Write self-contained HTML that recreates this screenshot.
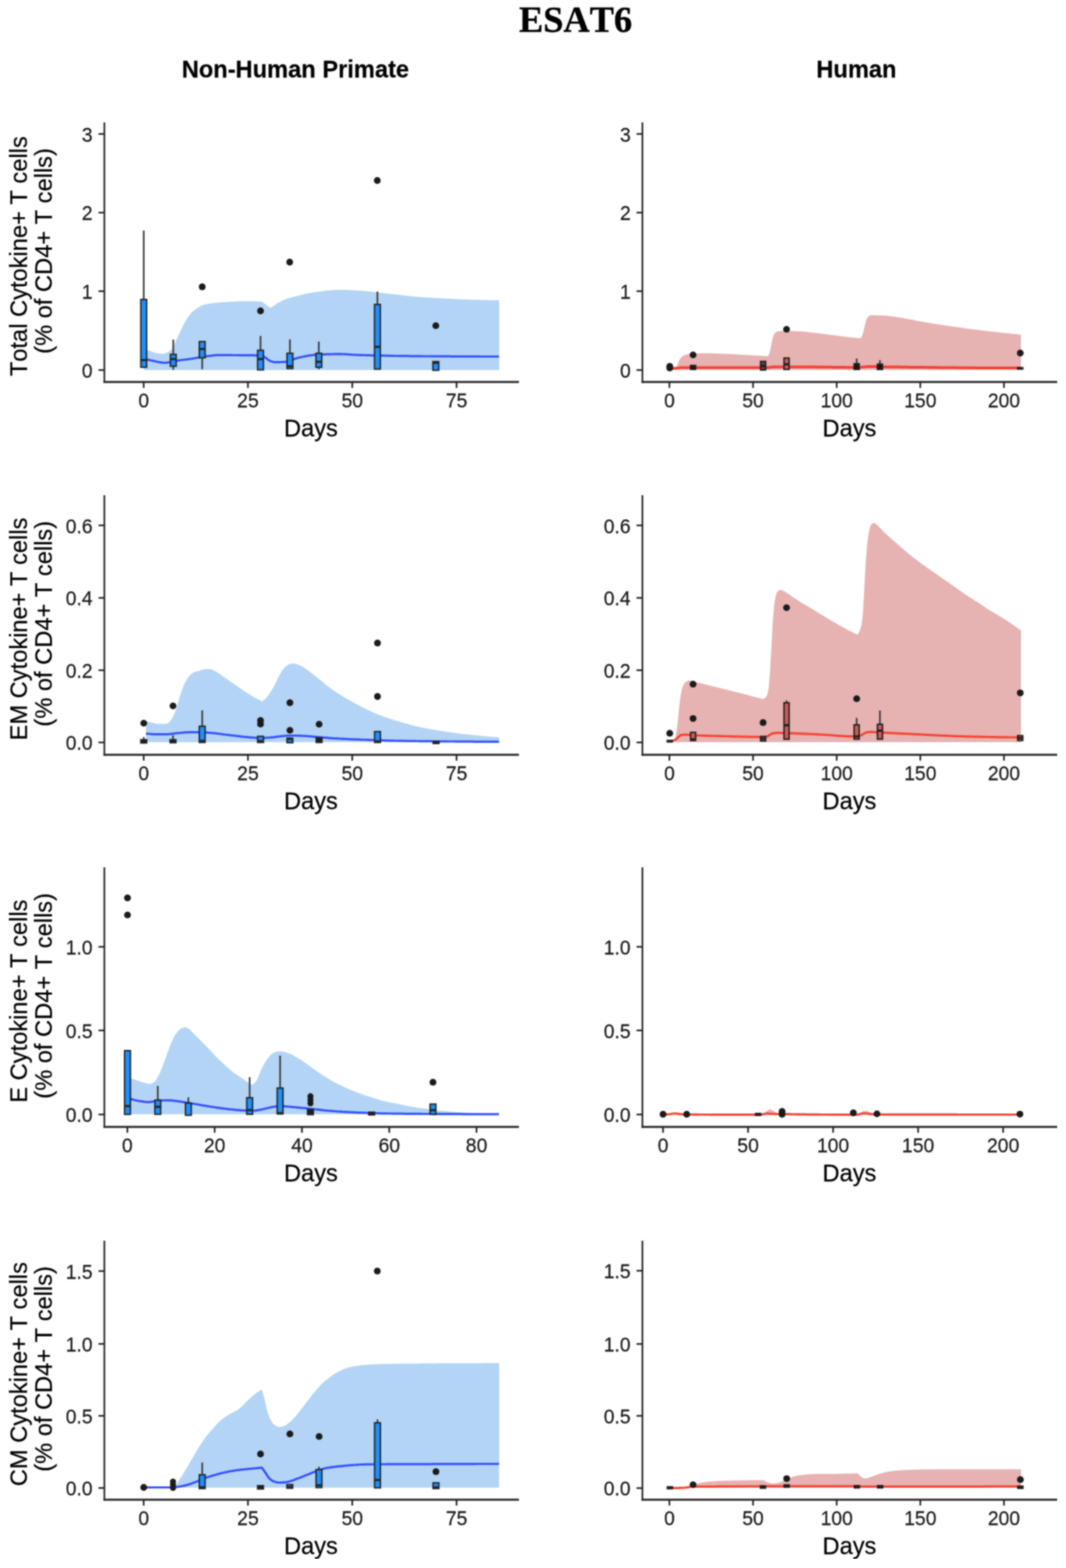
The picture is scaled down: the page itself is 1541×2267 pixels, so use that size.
<!DOCTYPE html>
<html lang="en">
<head>
<meta charset="utf-8">
<title>ESAT6</title>
<style>
html,body{margin:0;padding:0;background:#fff;}
body{width:1541px;height:2267px;overflow:hidden;}
svg{display:block;}
text{font-family:"Liberation Sans",sans-serif;font-kerning:none;}
.tk{font-size:28px;fill:#1c1c1c;stroke:#1c1c1c;stroke-width:0.3px;}
.ti{font-size:34.2px;fill:#000;stroke:#000;stroke-width:0.3px;}
.ct{font-size:34.2px;font-weight:bold;fill:#000;stroke:#000;stroke-width:0.3px;}
.mt{font-family:"Liberation Serif",serif;font-size:52.6px;font-weight:bold;fill:#000;stroke:#000;stroke-width:0.5px;}
</style>
</head>
<body>
<svg width="1541" height="2267" viewBox="0 0 1541 2267">
<rect width="1541" height="2267" fill="#ffffff"/>
<defs><filter id="bl" x="0" y="0" width="100%" height="100%" filterUnits="objectBoundingBox" color-interpolation-filters="sRGB"><feGaussianBlur stdDeviation="1.0" result="b"/><feComposite in="SourceGraphic" in2="b" operator="arithmetic" k1="0" k2="0.19999999999999996" k3="0.8" k4="0"/></filter></defs><g filter="url(#bl)">
<text class="mt" x="832" y="45.5" text-anchor="middle">ESAT6</text>
<text class="ct" x="427" y="111.5" text-anchor="middle">Non-Human Primate</text>
<text class="ct" x="1238" y="111.5" text-anchor="middle">Human</text>
<g><path d="M208.2 504.6 L210.2 505.3 L212.2 505.9 L214.2 506.6 L216.2 507.3 L218.2 508.0 L220.2 508.8 L222.2 509.4 L224.2 509.9 L226.2 510.3 L228.2 510.7 L230.2 511.1 L232.2 511.3 L234.2 511.4 L236.2 511.3 L238.2 510.9 L240.2 510.2 L242.2 509.5 L244.2 508.5 L246.2 507.0 L248.2 504.9 L250.2 501.7 L252.2 497.7 L254.2 493.1 L256.2 488.6 L258.2 484.4 L260.2 480.2 L262.2 475.9 L264.2 471.6 L266.2 467.5 L268.2 463.9 L270.2 460.8 L272.2 458.0 L274.2 455.3 L276.2 452.9 L278.2 450.8 L280.2 448.9 L282.2 447.4 L284.2 446.0 L286.2 444.7 L288.2 443.5 L290.2 442.4 L292.2 441.5 L294.2 440.7 L296.2 440.1 L298.2 439.7 L300.2 439.3 L302.2 439.0 L304.2 438.7 L306.2 438.4 L308.2 438.2 L310.2 438.0 L312.2 437.8 L314.2 437.6 L316.2 437.4 L318.2 437.3 L320.2 437.1 L322.2 437.0 L324.2 436.8 L326.2 436.7 L328.2 436.6 L330.2 436.4 L332.2 436.3 L334.2 436.2 L336.2 436.1 L338.2 436.0 L340.2 435.9 L342.2 435.8 L344.2 435.7 L346.2 435.6 L348.2 435.6 L350.2 435.5 L352.2 435.5 L354.2 435.5 L356.2 435.5 L358.2 435.5 L360.2 435.5 L362.2 435.5 L364.2 435.5 L366.2 435.5 L368.2 435.6 L370.2 435.6 L372.2 435.7 L374.2 435.7 L376.2 435.8 L378.2 435.9 L378.6 435.9 L380.6 437.4 L382.6 439.0 L384.6 440.5 L386.6 441.9 L388.6 443.4 L390.6 444.8 L391.2 445.2 L393.2 443.8 L395.2 442.4 L397.2 441.1 L399.2 439.8 L401.2 438.6 L403.2 437.4 L405.2 436.2 L407.2 435.1 L409.2 434.0 L411.2 433.2 L413.2 432.4 L415.2 431.7 L417.2 431.1 L419.2 430.5 L421.2 429.9 L423.2 429.4 L425.2 428.9 L427.2 428.4 L429.2 427.9 L431.2 427.4 L433.2 426.9 L435.2 426.5 L437.2 426.0 L439.2 425.5 L441.2 425.1 L443.2 424.6 L445.2 424.2 L447.2 423.8 L449.2 423.4 L451.2 423.1 L453.2 422.7 L455.2 422.4 L457.2 422.1 L459.2 421.9 L461.2 421.6 L463.2 421.4 L465.2 421.1 L467.2 420.8 L469.2 420.6 L471.2 420.3 L473.2 420.1 L475.2 419.9 L477.2 419.7 L479.2 419.5 L481.2 419.4 L483.2 419.2 L485.2 419.1 L487.2 419.0 L489.2 419.0 L491.2 418.9 L493.2 418.9 L495.2 419.0 L497.2 419.0 L499.2 419.1 L501.2 419.1 L503.2 419.2 L505.2 419.3 L507.2 419.4 L509.2 419.5 L511.2 419.7 L513.2 419.8 L515.2 419.9 L517.2 420.0 L519.2 420.2 L521.2 420.3 L523.2 420.5 L525.2 420.6 L527.2 420.8 L529.2 421.0 L531.2 421.2 L533.2 421.4 L535.2 421.6 L537.2 421.9 L539.2 422.1 L541.2 422.3 L543.2 422.5 L545.2 422.7 L547.2 422.9 L549.2 423.2 L551.2 423.4 L553.2 423.6 L555.2 423.8 L557.2 424.0 L559.2 424.3 L561.2 424.5 L563.2 424.7 L565.2 425.0 L567.2 425.2 L569.2 425.4 L571.2 425.7 L573.2 425.9 L575.2 426.2 L577.2 426.4 L579.2 426.6 L581.2 426.9 L583.2 427.1 L585.2 427.3 L587.2 427.5 L589.2 427.7 L591.2 428.0 L593.2 428.2 L595.2 428.4 L597.2 428.6 L599.2 428.7 L601.2 428.9 L603.2 429.1 L605.2 429.3 L607.2 429.4 L609.2 429.6 L611.2 429.7 L613.2 429.8 L615.2 429.9 L617.2 430.0 L619.2 430.2 L621.2 430.3 L623.2 430.4 L625.2 430.5 L627.2 430.6 L629.2 430.7 L631.2 430.9 L633.2 431.0 L635.2 431.1 L637.2 431.2 L639.2 431.3 L641.2 431.4 L643.2 431.5 L645.2 431.6 L647.2 431.7 L649.2 431.8 L651.2 431.9 L653.2 432.0 L655.2 432.1 L657.2 432.2 L659.2 432.3 L661.2 432.4 L663.2 432.5 L665.2 432.6 L667.2 432.7 L669.2 432.8 L671.2 432.9 L673.2 432.9 L675.2 433.0 L677.2 433.1 L679.2 433.2 L681.2 433.2 L683.2 433.3 L685.2 433.4 L687.2 433.4 L689.2 433.5 L691.2 433.6 L693.2 433.6 L695.2 433.7 L697.2 433.7 L699.2 433.7 L701.2 433.8 L703.2 433.8 L705.2 433.9 L707.2 433.9 L709.2 433.9 L711.2 433.9 L713.2 434.0 L715.2 434.0 L717.2 434.0 L719.2 434.0 L721.2 434.0 L721.5 434.0 L721.5 534.9 L207.7 534.9Z" fill="#b3d4f5"/>
<path d="M208.2 518.6 L210.2 519.1 L212.2 519.6 L214.2 520.1 L216.2 520.6 L218.2 521.0 L220.2 521.4 L222.2 521.9 L224.2 522.3 L226.2 522.8 L228.2 523.2 L230.2 523.6 L232.2 523.9 L234.2 524.2 L236.2 524.4 L238.2 524.5 L240.2 524.4 L242.2 524.2 L244.2 523.9 L246.2 523.6 L248.2 523.1 L250.2 522.7 L252.2 522.2 L254.2 521.8 L256.2 521.4 L258.2 521.1 L260.2 520.8 L262.2 520.5 L264.2 520.3 L266.2 520.0 L268.2 519.8 L270.2 519.6 L272.2 519.3 L274.2 519.0 L276.2 518.8 L278.2 518.5 L280.2 518.2 L282.2 517.8 L284.2 517.4 L286.2 517.1 L288.2 516.7 L290.2 516.3 L292.2 516.0 L294.2 515.7 L296.2 515.4 L298.2 515.1 L300.2 514.8 L302.2 514.6 L304.2 514.3 L306.2 514.1 L308.2 513.8 L310.2 513.6 L312.2 513.5 L314.2 513.4 L316.2 513.4 L318.2 513.4 L320.2 513.4 L322.2 513.4 L324.2 513.4 L326.2 513.4 L328.2 513.4 L330.2 513.4 L332.2 513.4 L334.2 513.4 L336.2 513.5 L338.2 513.5 L340.2 513.5 L342.2 513.5 L344.2 513.5 L346.2 513.6 L348.2 513.6 L350.2 513.6 L352.2 513.6 L354.2 513.6 L356.2 513.6 L358.2 513.6 L360.2 513.7 L362.2 513.7 L364.2 513.7 L366.2 513.7 L368.2 513.8 L370.2 513.8 L372.2 513.9 L374.2 513.9 L376.2 514.1 L378.2 514.6 L380.2 515.3 L382.2 516.2 L384.2 517.3 L386.2 518.9 L388.2 520.6 L390.2 521.7 L392.2 522.4 L394.2 523.1 L396.2 523.5 L398.2 523.7 L400.2 523.7 L402.2 523.6 L404.2 523.6 L406.2 523.5 L408.2 523.4 L410.2 523.3 L412.2 523.2 L414.2 523.0 L416.2 522.5 L418.2 521.7 L420.2 521.0 L422.2 520.3 L424.2 519.6 L426.2 518.8 L428.2 518.1 L430.2 517.5 L432.2 517.0 L434.2 516.5 L436.2 516.1 L438.2 515.7 L440.2 515.3 L442.2 514.9 L444.2 514.5 L446.2 514.2 L448.2 513.9 L450.2 513.6 L452.2 513.4 L454.2 513.2 L456.2 513.0 L458.2 512.9 L460.2 512.8 L462.2 512.7 L464.2 512.6 L466.2 512.5 L468.2 512.4 L470.2 512.3 L472.2 512.2 L474.2 512.2 L476.2 512.1 L478.2 512.1 L480.2 512.0 L482.2 512.0 L484.2 511.9 L486.2 511.9 L488.2 511.9 L490.2 511.9 L492.2 511.9 L494.2 511.9 L496.2 512.0 L498.2 512.1 L500.2 512.2 L502.2 512.3 L504.2 512.5 L506.2 512.6 L508.2 512.8 L510.2 512.9 L512.2 513.0 L514.2 513.1 L516.2 513.2 L518.2 513.3 L520.2 513.3 L522.2 513.4 L524.2 513.4 L526.2 513.5 L528.2 513.5 L530.2 513.6 L532.2 513.7 L534.2 513.7 L536.2 513.8 L538.2 513.8 L540.2 513.9 L542.2 513.9 L544.2 513.9 L546.2 514.0 L548.2 514.0 L550.2 514.1 L552.2 514.1 L554.2 514.2 L556.2 514.2 L558.2 514.2 L560.2 514.3 L562.2 514.3 L564.2 514.4 L566.2 514.4 L568.2 514.4 L570.2 514.5 L572.2 514.5 L574.2 514.5 L576.2 514.6 L578.2 514.6 L580.2 514.6 L582.2 514.6 L584.2 514.7 L586.2 514.7 L588.2 514.7 L590.2 514.7 L592.2 514.8 L594.2 514.8 L596.2 514.8 L598.2 514.8 L600.2 514.9 L602.2 514.9 L604.2 514.9 L606.2 514.9 L608.2 514.9 L610.2 515.0 L612.2 515.0 L614.2 515.0 L616.2 515.0 L618.2 515.0 L620.2 515.0 L622.2 515.0 L624.2 515.1 L626.2 515.1 L628.2 515.1 L630.2 515.1 L632.2 515.1 L634.2 515.1 L636.2 515.1 L638.2 515.2 L640.2 515.2 L642.2 515.2 L644.2 515.2 L646.2 515.2 L648.2 515.2 L650.2 515.2 L652.2 515.3 L654.2 515.3 L656.2 515.3 L658.2 515.3 L660.2 515.3 L662.2 515.3 L664.2 515.3 L666.2 515.3 L668.2 515.3 L670.2 515.4 L672.2 515.4 L674.2 515.4 L676.2 515.4 L678.2 515.4 L680.2 515.4 L682.2 515.4 L684.2 515.4 L686.2 515.4 L688.2 515.4 L690.2 515.4 L692.2 515.4 L694.2 515.5 L696.2 515.5 L698.2 515.5 L700.2 515.5 L702.2 515.5 L704.2 515.5 L706.2 515.5 L708.2 515.5 L710.2 515.5 L712.2 515.5 L714.2 515.5 L716.2 515.5 L718.2 515.5 L720.2 515.5 L721.3 515.5" fill="none" stroke="#3350ff" stroke-width="3.2" stroke-linejoin="round"/>
<line x1="207.8" y1="333.3" x2="207.8" y2="433.0" stroke="#3a3a3a" stroke-width="2.4"/>
<rect x="203.6" y="433.0" width="8.4" height="97.9" fill="#1e90ff" stroke="#262626" stroke-width="2.1"/>
<line x1="203.6" y1="520.6" x2="212.0" y2="520.6" stroke="#262626" stroke-width="3.2"/>
<line x1="250.5" y1="491.0" x2="250.5" y2="512.4" stroke="#3a3a3a" stroke-width="2.4"/>
<line x1="250.5" y1="529.5" x2="250.5" y2="534.8" stroke="#3a3a3a" stroke-width="2.4"/>
<rect x="246.3" y="512.4" width="8.4" height="17.1" fill="#1e90ff" stroke="#262626" stroke-width="2.1"/>
<line x1="246.3" y1="519.2" x2="254.7" y2="519.2" stroke="#262626" stroke-width="3.2"/>
<line x1="292.3" y1="517.2" x2="292.3" y2="533.8" stroke="#3a3a3a" stroke-width="2.4"/>
<rect x="288.1" y="493.9" width="8.4" height="23.4" fill="#1e90ff" stroke="#262626" stroke-width="2.1"/>
<line x1="288.1" y1="504.6" x2="296.5" y2="504.6" stroke="#262626" stroke-width="3.2"/>
<line x1="376.6" y1="485.7" x2="376.6" y2="506.5" stroke="#3a3a3a" stroke-width="2.4"/>
<rect x="372.4" y="506.5" width="8.4" height="28.2" fill="#1e90ff" stroke="#262626" stroke-width="2.1"/>
<line x1="372.4" y1="519.2" x2="380.8" y2="519.2" stroke="#262626" stroke-width="3.2"/>
<line x1="419.1" y1="490.6" x2="419.1" y2="510.8" stroke="#3a3a3a" stroke-width="2.4"/>
<rect x="414.9" y="510.8" width="8.4" height="22.0" fill="#1e90ff" stroke="#262626" stroke-width="2.1"/>
<line x1="414.9" y1="529.5" x2="423.3" y2="529.5" stroke="#262626" stroke-width="3.2"/>
<line x1="460.9" y1="493.9" x2="460.9" y2="510.8" stroke="#3a3a3a" stroke-width="2.4"/>
<line x1="460.9" y1="530.9" x2="460.9" y2="533.8" stroke="#3a3a3a" stroke-width="2.4"/>
<rect x="456.7" y="510.8" width="8.4" height="20.1" fill="#1e90ff" stroke="#262626" stroke-width="2.1"/>
<line x1="456.7" y1="523.1" x2="465.1" y2="523.1" stroke="#262626" stroke-width="3.2"/>
<line x1="545.6" y1="421.5" x2="545.6" y2="440.2" stroke="#3a3a3a" stroke-width="2.4"/>
<rect x="541.4" y="440.2" width="8.4" height="93.4" fill="#1e90ff" stroke="#262626" stroke-width="2.1"/>
<line x1="541.4" y1="501.5" x2="549.8" y2="501.5" stroke="#262626" stroke-width="3.2"/>
<rect x="625.8" y="522.8" width="8.4" height="12.5" fill="#1e90ff" stroke="#262626" stroke-width="2.1"/>
<line x1="625.8" y1="524.6" x2="634.2" y2="524.6" stroke="#262626" stroke-width="3.2"/>
<circle cx="292.3" cy="414.7" r="4.9" fill="#1a1a1a"/>
<circle cx="376.6" cy="449.5" r="4.9" fill="#1a1a1a"/>
<circle cx="418.8" cy="379.0" r="4.9" fill="#1a1a1a"/>
<circle cx="545.4" cy="261.0" r="4.9" fill="#1a1a1a"/>
<circle cx="630.0" cy="470.9" r="4.9" fill="#1a1a1a"/>
<path d="M150.9 177.0 V553.8" fill="none" stroke="#2b2b2b" stroke-width="2.5"/>
<path d="M149.7 552.3 H750.2" fill="none" stroke="#2b2b2b" stroke-width="3.0"/>
<line x1="142.4" y1="535.0" x2="150.9" y2="535.0" stroke="#222222" stroke-width="2.4"/>
<text class="tk" transform="translate(133.9 545.9) scale(1 1.06)" text-anchor="end">0</text>
<line x1="142.4" y1="421.0" x2="150.9" y2="421.0" stroke="#222222" stroke-width="2.4"/>
<text class="tk" transform="translate(133.9 431.9) scale(1 1.06)" text-anchor="end">1</text>
<line x1="142.4" y1="307.4" x2="150.9" y2="307.4" stroke="#222222" stroke-width="2.4"/>
<text class="tk" transform="translate(133.9 318.3) scale(1 1.06)" text-anchor="end">2</text>
<line x1="142.4" y1="193.7" x2="150.9" y2="193.7" stroke="#222222" stroke-width="2.4"/>
<text class="tk" transform="translate(133.9 204.6) scale(1 1.06)" text-anchor="end">3</text>
<line x1="207.7" y1="552.3" x2="207.7" y2="560.8" stroke="#222222" stroke-width="2.4"/>
<text class="tk" transform="translate(207.7 589.2) scale(1 1.06)" text-anchor="middle">0</text>
<line x1="358.4" y1="552.3" x2="358.4" y2="560.8" stroke="#222222" stroke-width="2.4"/>
<text class="tk" transform="translate(358.4 589.2) scale(1 1.06)" text-anchor="middle">25</text>
<line x1="509.2" y1="552.3" x2="509.2" y2="560.8" stroke="#222222" stroke-width="2.4"/>
<text class="tk" transform="translate(509.2 589.2) scale(1 1.06)" text-anchor="middle">50</text>
<line x1="660.0" y1="552.3" x2="660.0" y2="560.8" stroke="#222222" stroke-width="2.4"/>
<text class="tk" transform="translate(660.0 589.2) scale(1 1.06)" text-anchor="middle">75</text>
<text class="ti" x="449.5" y="630.7" text-anchor="middle">Days</text>
<text class="ti" transform="translate(38.6 370.4) rotate(-90)" text-anchor="middle">Total Cytokine+ T cells</text>
<text class="ti" transform="translate(74.5 362.8) rotate(-90)" text-anchor="middle">(% of CD4+ T cells)</text></g>
<g><path d="M975.6 535.2 L977.6 531.4 L979.6 526.9 L981.6 521.7 L983.6 518.3 L985.6 515.9 L987.6 514.4 L989.6 513.4 L991.6 512.8 L993.6 512.2 L995.6 511.8 L997.6 511.6 L999.6 511.4 L1001.6 511.3 L1003.6 511.2 L1005.6 511.0 L1007.6 511.0 L1009.6 510.9 L1011.6 510.8 L1013.6 510.8 L1015.6 510.7 L1017.6 510.7 L1019.6 510.7 L1021.6 510.7 L1023.6 510.8 L1025.6 510.8 L1027.6 510.8 L1029.6 510.9 L1031.6 511.0 L1033.6 511.0 L1035.6 511.1 L1037.6 511.2 L1039.6 511.2 L1041.6 511.3 L1043.6 511.4 L1045.6 511.4 L1047.6 511.5 L1049.6 511.6 L1051.6 511.7 L1053.6 511.8 L1055.6 511.9 L1057.6 512.0 L1059.6 512.1 L1061.6 512.2 L1063.6 512.3 L1065.6 512.4 L1067.6 512.6 L1069.6 512.7 L1071.6 512.8 L1073.6 512.9 L1075.6 513.0 L1077.6 513.1 L1079.6 513.2 L1081.6 513.4 L1083.6 513.5 L1085.6 513.6 L1087.6 513.7 L1089.6 513.8 L1091.6 513.9 L1093.6 514.1 L1095.6 514.2 L1097.6 514.3 L1099.6 514.4 L1101.6 514.5 L1103.6 514.7 L1105.6 514.8 L1107.6 514.9 L1109.4 515.0 L1111.4 513.2 L1113.4 506.7 L1115.4 495.9 L1117.4 487.4 L1119.4 482.8 L1121.4 480.5 L1123.4 479.4 L1125.4 478.9 L1127.4 478.7 L1129.4 478.6 L1131.4 478.5 L1133.4 478.4 L1135.4 478.4 L1137.4 478.4 L1139.4 478.5 L1141.4 478.5 L1143.4 478.6 L1145.4 478.6 L1147.4 478.7 L1149.4 478.8 L1151.4 478.9 L1153.4 479.0 L1155.4 479.0 L1157.4 479.2 L1159.4 479.3 L1161.4 479.5 L1163.4 479.6 L1165.4 479.8 L1167.4 480.1 L1169.4 480.3 L1171.4 480.5 L1173.4 480.7 L1175.4 481.0 L1177.4 481.2 L1179.4 481.4 L1181.4 481.7 L1183.4 481.9 L1185.4 482.1 L1187.4 482.4 L1189.4 482.6 L1191.4 482.9 L1193.4 483.1 L1195.4 483.4 L1197.4 483.7 L1199.4 484.0 L1201.4 484.2 L1203.4 484.5 L1205.4 484.8 L1207.4 485.0 L1209.4 485.3 L1211.4 485.6 L1213.4 485.8 L1215.4 486.1 L1217.4 486.3 L1219.4 486.6 L1221.4 486.8 L1223.4 487.0 L1225.4 487.2 L1227.4 487.5 L1229.4 487.7 L1231.4 487.9 L1233.4 488.1 L1235.4 488.3 L1237.4 488.5 L1239.4 488.7 L1241.4 488.9 L1243.4 489.1 L1243.8 489.1 L1245.8 486.3 L1247.8 480.6 L1249.8 471.9 L1251.8 463.8 L1253.8 459.4 L1255.8 457.2 L1257.8 456.3 L1259.8 455.8 L1261.8 455.8 L1263.8 455.8 L1265.8 455.9 L1267.8 455.9 L1269.8 456.0 L1271.8 456.0 L1273.8 456.1 L1275.8 456.1 L1277.8 456.2 L1279.8 456.3 L1281.8 456.5 L1283.8 456.7 L1285.8 456.9 L1287.8 457.1 L1289.8 457.4 L1291.8 457.7 L1293.8 458.0 L1295.8 458.3 L1297.8 458.6 L1299.8 458.9 L1301.8 459.2 L1303.8 459.6 L1305.8 459.9 L1307.8 460.3 L1309.8 460.7 L1311.8 461.0 L1313.8 461.4 L1315.8 461.8 L1317.8 462.2 L1319.8 462.6 L1321.8 463.0 L1323.8 463.4 L1325.8 463.8 L1327.8 464.2 L1329.8 464.6 L1331.8 465.0 L1333.8 465.3 L1335.8 465.7 L1337.8 466.0 L1339.8 466.3 L1341.8 466.7 L1343.8 467.0 L1345.8 467.3 L1347.8 467.6 L1349.8 467.9 L1351.8 468.3 L1353.8 468.6 L1355.8 468.9 L1357.8 469.2 L1359.8 469.5 L1361.8 469.8 L1363.8 470.1 L1365.8 470.4 L1367.8 470.7 L1369.8 471.0 L1371.8 471.3 L1373.8 471.6 L1375.8 471.9 L1377.8 472.2 L1379.8 472.4 L1381.8 472.7 L1383.8 473.0 L1385.8 473.3 L1387.8 473.6 L1389.8 473.8 L1391.8 474.1 L1393.8 474.4 L1395.8 474.7 L1397.8 474.9 L1399.8 475.2 L1401.8 475.5 L1403.8 475.7 L1405.8 476.0 L1407.8 476.2 L1409.8 476.5 L1411.8 476.7 L1413.8 477.0 L1415.8 477.2 L1417.8 477.5 L1419.8 477.7 L1421.8 478.0 L1423.8 478.2 L1425.8 478.5 L1427.8 478.7 L1429.8 478.9 L1431.8 479.2 L1433.8 479.4 L1435.8 479.6 L1437.8 479.9 L1439.8 480.1 L1441.8 480.3 L1443.8 480.5 L1445.8 480.8 L1447.8 481.0 L1449.8 481.2 L1451.8 481.4 L1453.8 481.6 L1455.8 481.8 L1457.8 482.1 L1459.8 482.3 L1461.8 482.5 L1463.8 482.7 L1465.8 482.9 L1467.8 483.1 L1469.8 483.3 L1471.8 483.5 L1473.8 483.7 L1475.9 483.9 L1475.9 534.8 L975.6 534.8Z" fill="#e6b2b2"/>
<path d="M968.2 532.9 L970.2 532.8 L972.2 532.7 L974.2 532.5 L976.2 532.4 L978.2 532.2 L980.2 532.0 L982.2 531.7 L984.2 531.5 L986.2 531.4 L988.2 531.4 L990.2 531.4 L992.2 531.4 L994.2 531.4 L996.2 531.4 L998.2 531.4 L1000.2 531.4 L1002.2 531.4 L1004.2 531.4 L1006.2 531.4 L1008.2 531.4 L1010.2 531.4 L1012.2 531.4 L1014.2 531.4 L1016.2 531.4 L1018.2 531.4 L1020.2 531.4 L1022.2 531.4 L1024.2 531.4 L1026.2 531.4 L1028.2 531.4 L1030.2 531.4 L1032.2 531.4 L1034.2 531.4 L1036.2 531.4 L1038.2 531.4 L1040.2 531.4 L1042.2 531.4 L1044.2 531.4 L1046.2 531.5 L1048.2 531.5 L1050.2 531.5 L1052.2 531.5 L1054.2 531.5 L1056.2 531.5 L1058.2 531.5 L1060.2 531.5 L1062.2 531.5 L1064.2 531.5 L1066.2 531.5 L1068.2 531.5 L1070.2 531.5 L1072.2 531.5 L1074.2 531.5 L1076.2 531.5 L1078.2 531.5 L1080.2 531.5 L1082.2 531.5 L1084.2 531.5 L1086.2 531.5 L1088.2 531.5 L1090.2 531.5 L1092.2 531.5 L1094.2 531.5 L1096.2 531.5 L1098.2 531.5 L1100.2 531.5 L1102.2 531.5 L1104.2 531.6 L1106.2 531.6 L1108.2 531.5 L1110.2 531.4 L1112.2 531.2 L1114.2 531.0 L1116.2 530.8 L1118.2 530.6 L1120.2 530.6 L1122.2 530.5 L1124.2 530.5 L1126.2 530.4 L1128.2 530.4 L1130.2 530.4 L1132.2 530.4 L1134.2 530.4 L1136.2 530.4 L1138.2 530.4 L1140.2 530.4 L1142.2 530.4 L1144.2 530.4 L1146.2 530.4 L1148.2 530.4 L1150.2 530.4 L1152.2 530.4 L1154.2 530.4 L1156.2 530.4 L1158.2 530.5 L1160.2 530.5 L1162.2 530.5 L1164.2 530.5 L1166.2 530.5 L1168.2 530.5 L1170.2 530.5 L1172.2 530.6 L1174.2 530.6 L1176.2 530.6 L1178.2 530.6 L1180.2 530.6 L1182.2 530.7 L1184.2 530.7 L1186.2 530.7 L1188.2 530.7 L1190.2 530.7 L1192.2 530.8 L1194.2 530.8 L1196.2 530.8 L1198.2 530.8 L1200.2 530.8 L1202.2 530.9 L1204.2 530.9 L1206.2 530.9 L1208.2 530.9 L1210.2 530.9 L1212.2 531.0 L1214.2 531.0 L1216.2 531.0 L1218.2 531.0 L1220.2 531.1 L1222.2 531.1 L1224.2 531.2 L1226.2 531.2 L1228.2 531.2 L1230.2 531.3 L1232.2 531.3 L1234.2 531.3 L1236.2 531.3 L1238.2 531.4 L1240.2 531.3 L1242.2 531.2 L1244.2 531.1 L1246.2 530.8 L1248.2 530.6 L1250.2 530.4 L1252.2 530.2 L1254.2 530.1 L1256.2 530.0 L1258.2 530.0 L1260.2 530.0 L1262.2 530.0 L1264.2 530.1 L1266.2 530.1 L1268.2 530.2 L1270.2 530.2 L1272.2 530.3 L1274.2 530.3 L1276.2 530.4 L1278.2 530.4 L1280.2 530.4 L1282.2 530.4 L1284.2 530.5 L1286.2 530.5 L1288.2 530.5 L1290.2 530.5 L1292.2 530.6 L1294.2 530.6 L1296.2 530.6 L1298.2 530.6 L1300.2 530.7 L1302.2 530.7 L1304.2 530.7 L1306.2 530.8 L1308.2 530.8 L1310.2 530.8 L1312.2 530.8 L1314.2 530.9 L1316.2 530.9 L1318.2 530.9 L1320.2 530.9 L1322.2 531.0 L1324.2 531.0 L1326.2 531.0 L1328.2 531.0 L1330.2 531.1 L1332.2 531.1 L1334.2 531.1 L1336.2 531.1 L1338.2 531.1 L1340.2 531.2 L1342.2 531.2 L1344.2 531.2 L1346.2 531.2 L1348.2 531.3 L1350.2 531.3 L1352.2 531.3 L1354.2 531.3 L1356.2 531.4 L1358.2 531.4 L1360.2 531.4 L1362.2 531.4 L1364.2 531.4 L1366.2 531.5 L1368.2 531.5 L1370.2 531.5 L1372.2 531.5 L1374.2 531.5 L1376.2 531.6 L1378.2 531.6 L1380.2 531.6 L1382.2 531.6 L1384.2 531.6 L1386.2 531.7 L1388.2 531.7 L1390.2 531.7 L1392.2 531.7 L1394.2 531.7 L1396.2 531.8 L1398.2 531.8 L1400.2 531.8 L1402.2 531.8 L1404.2 531.8 L1406.2 531.8 L1408.2 531.8 L1410.2 531.9 L1412.2 531.9 L1414.2 531.9 L1416.2 531.9 L1418.2 531.9 L1420.2 531.9 L1422.2 531.9 L1424.2 532.0 L1426.2 532.0 L1428.2 532.0 L1430.2 532.0 L1432.2 532.0 L1434.2 532.0 L1436.2 532.0 L1438.2 532.0 L1440.2 532.0 L1442.2 532.1 L1444.2 532.1 L1446.2 532.1 L1448.2 532.1 L1450.2 532.1 L1452.2 532.1 L1454.2 532.1 L1456.2 532.1 L1458.2 532.1 L1460.2 532.1 L1462.2 532.1 L1464.2 532.1 L1466.2 532.1 L1468.2 532.1 L1470.2 532.1 L1472.2 532.1 L1474.2 532.1 L1475.5 532.1" fill="none" stroke="#f8402f" stroke-width="4.0" stroke-linejoin="round"/>
<rect x="998.3" y="528.4" width="7.3" height="5.6" fill="#1c1416" stroke="#1e1e1e" stroke-width="2.1"/>
<rect x="1099.5" y="522.6" width="7.3" height="12.3" fill="#7a3a3c" stroke="#1e1e1e" stroke-width="2.1"/>
<line x1="1099.5" y1="529.0" x2="1106.8" y2="529.0" stroke="#1e1e1e" stroke-width="3.2"/>
<rect x="1133.4" y="517.7" width="7.3" height="16.4" fill="#cd5c5c" stroke="#1e1e1e" stroke-width="2.1"/>
<line x1="1133.4" y1="526.7" x2="1140.7" y2="526.7" stroke="#1e1e1e" stroke-width="3.2"/>
<line x1="1238.4" y1="518.3" x2="1238.4" y2="525.9" stroke="#3a3a3a" stroke-width="2.4"/>
<rect x="1234.7" y="525.9" width="7.3" height="8.2" fill="#1c1416" stroke="#1e1e1e" stroke-width="2.1"/>
<line x1="1272.0" y1="520.8" x2="1272.0" y2="526.5" stroke="#3a3a3a" stroke-width="2.4"/>
<rect x="1268.4" y="526.5" width="7.3" height="7.6" fill="#1c1416" stroke="#1e1e1e" stroke-width="2.1"/>
<rect x="1471.2" y="531.6" width="7.3" height="1.9" fill="#1c1416" stroke="#1e1e1e" stroke-width="2.1"/>
<circle cx="968.2" cy="529.6" r="4.9" fill="#1a1a1a"/>
<circle cx="968.2" cy="532.1" r="4.9" fill="#1a1a1a"/>
<circle cx="1001.9" cy="513.1" r="4.9" fill="#1a1a1a"/>
<circle cx="1137.0" cy="476.1" r="4.9" fill="#1a1a1a"/>
<circle cx="1474.9" cy="510.5" r="4.9" fill="#1a1a1a"/>
<path d="M928.7 177.0 V553.8" fill="none" stroke="#2b2b2b" stroke-width="2.5"/>
<path d="M927.5 552.3 H1528.3" fill="none" stroke="#2b2b2b" stroke-width="3.0"/>
<line x1="920.2" y1="535.0" x2="928.7" y2="535.0" stroke="#222222" stroke-width="2.4"/>
<text class="tk" transform="translate(911.7 545.9) scale(1 1.06)" text-anchor="end">0</text>
<line x1="920.2" y1="421.0" x2="928.7" y2="421.0" stroke="#222222" stroke-width="2.4"/>
<text class="tk" transform="translate(911.7 431.9) scale(1 1.06)" text-anchor="end">1</text>
<line x1="920.2" y1="307.4" x2="928.7" y2="307.4" stroke="#222222" stroke-width="2.4"/>
<text class="tk" transform="translate(911.7 318.3) scale(1 1.06)" text-anchor="end">2</text>
<line x1="920.2" y1="193.7" x2="928.7" y2="193.7" stroke="#222222" stroke-width="2.4"/>
<text class="tk" transform="translate(911.7 204.6) scale(1 1.06)" text-anchor="end">3</text>
<line x1="967.7" y1="552.3" x2="967.7" y2="560.8" stroke="#222222" stroke-width="2.4"/>
<text class="tk" transform="translate(967.7 589.2) scale(1 1.06)" text-anchor="middle">0</text>
<line x1="1088.6" y1="552.3" x2="1088.6" y2="560.8" stroke="#222222" stroke-width="2.4"/>
<text class="tk" transform="translate(1088.6 589.2) scale(1 1.06)" text-anchor="middle">50</text>
<line x1="1209.5" y1="552.3" x2="1209.5" y2="560.8" stroke="#222222" stroke-width="2.4"/>
<text class="tk" transform="translate(1209.5 589.2) scale(1 1.06)" text-anchor="middle">100</text>
<line x1="1330.4" y1="552.3" x2="1330.4" y2="560.8" stroke="#222222" stroke-width="2.4"/>
<text class="tk" transform="translate(1330.4 589.2) scale(1 1.06)" text-anchor="middle">150</text>
<line x1="1451.3" y1="552.3" x2="1451.3" y2="560.8" stroke="#222222" stroke-width="2.4"/>
<text class="tk" transform="translate(1451.3 589.2) scale(1 1.06)" text-anchor="middle">200</text>
<text class="ti" x="1227.9" y="630.7" text-anchor="middle">Days</text></g>
<g><path d="M211.1 1042.6 L213.1 1043.2 L215.1 1043.7 L217.1 1044.2 L219.1 1044.6 L221.1 1045.1 L223.1 1045.7 L225.1 1046.1 L227.1 1046.5 L229.1 1046.5 L231.1 1046.5 L233.1 1046.5 L235.1 1046.5 L237.1 1046.5 L239.1 1046.5 L241.1 1046.0 L243.1 1045.2 L245.1 1043.9 L247.1 1041.3 L249.1 1038.0 L251.1 1033.9 L253.1 1029.2 L255.1 1023.6 L257.1 1017.1 L259.1 1009.9 L261.1 1003.3 L263.1 997.4 L265.1 992.4 L267.1 987.8 L269.1 984.0 L271.1 980.7 L273.1 977.9 L275.1 975.7 L277.1 974.0 L279.1 972.6 L281.1 971.6 L283.1 971.1 L285.1 970.7 L287.1 970.2 L289.1 969.5 L291.1 968.8 L293.1 968.2 L295.1 967.7 L297.1 967.2 L299.1 967.1 L301.1 967.2 L303.1 967.5 L305.1 967.8 L307.1 968.4 L309.1 969.3 L311.1 970.4 L313.1 971.4 L315.1 972.6 L317.1 973.9 L319.1 975.3 L321.1 976.8 L323.1 978.3 L325.1 979.7 L327.1 981.1 L329.1 982.5 L331.1 984.0 L333.1 985.4 L335.1 986.8 L337.1 988.2 L339.1 989.6 L341.1 991.0 L343.1 992.4 L345.1 993.8 L347.1 995.1 L349.1 996.5 L351.1 997.8 L353.1 999.1 L355.1 1000.5 L357.1 1001.8 L359.1 1003.1 L361.1 1004.3 L363.1 1005.6 L365.1 1006.8 L367.1 1007.9 L369.1 1009.0 L371.1 1010.2 L373.1 1011.2 L375.1 1012.3 L377.1 1013.3 L378.6 1014.0 L380.6 1012.8 L382.6 1011.3 L384.6 1009.4 L386.6 1007.1 L388.6 1004.3 L390.6 1001.3 L392.6 998.1 L394.6 994.7 L396.6 991.1 L398.6 987.2 L400.6 983.0 L402.6 979.1 L404.6 975.2 L406.6 971.5 L408.6 968.5 L410.6 965.9 L412.6 963.7 L414.6 962.2 L416.6 960.9 L418.6 960.1 L420.6 959.8 L422.6 959.6 L424.6 959.5 L426.6 959.6 L428.6 960.1 L430.6 960.7 L432.6 961.4 L434.6 962.4 L436.6 963.6 L438.6 964.8 L440.6 966.1 L442.6 967.4 L444.6 968.8 L446.6 970.3 L448.6 971.8 L450.6 973.3 L452.6 974.9 L454.6 976.5 L456.6 978.1 L458.6 979.7 L460.6 981.2 L462.6 982.8 L464.6 984.4 L466.6 986.1 L468.6 987.8 L470.6 989.4 L472.6 991.0 L474.6 992.6 L476.6 994.2 L478.6 995.7 L480.6 997.1 L482.6 998.5 L484.6 999.8 L486.6 1001.2 L488.6 1002.5 L490.6 1003.8 L492.6 1005.0 L494.6 1006.3 L496.6 1007.5 L498.6 1008.7 L500.6 1009.9 L502.6 1011.0 L504.6 1012.1 L506.6 1013.2 L508.6 1014.3 L510.6 1015.4 L512.6 1016.5 L514.6 1017.6 L516.6 1018.6 L518.6 1019.7 L520.6 1020.7 L522.6 1021.7 L524.6 1022.8 L526.6 1023.8 L528.6 1024.8 L530.6 1025.8 L532.6 1026.8 L534.6 1027.8 L536.6 1028.7 L538.6 1029.6 L540.6 1030.4 L542.6 1031.3 L544.6 1032.1 L546.6 1032.9 L548.6 1033.7 L550.6 1034.5 L552.6 1035.3 L554.6 1036.0 L556.6 1036.7 L558.6 1037.4 L560.6 1038.1 L562.6 1038.8 L564.6 1039.4 L566.6 1040.1 L568.6 1040.7 L570.6 1041.3 L572.6 1041.9 L574.6 1042.5 L576.6 1043.1 L578.6 1043.7 L580.6 1044.3 L582.6 1044.9 L584.6 1045.5 L586.6 1046.0 L588.6 1046.6 L590.6 1047.1 L592.6 1047.7 L594.6 1048.2 L596.6 1048.7 L598.6 1049.2 L600.6 1049.7 L602.6 1050.2 L604.6 1050.7 L606.6 1051.1 L608.6 1051.6 L610.6 1052.0 L612.6 1052.4 L614.6 1052.8 L616.6 1053.2 L618.6 1053.6 L620.6 1054.0 L622.6 1054.3 L624.6 1054.6 L626.6 1055.0 L628.6 1055.3 L630.6 1055.6 L632.6 1055.9 L634.6 1056.3 L636.6 1056.6 L638.6 1056.9 L640.6 1057.2 L642.6 1057.5 L644.6 1057.8 L646.6 1058.1 L648.6 1058.4 L650.6 1058.7 L652.6 1059.0 L654.6 1059.3 L656.6 1059.5 L658.6 1059.8 L660.6 1060.1 L662.6 1060.4 L664.6 1060.6 L666.6 1060.9 L668.6 1061.1 L670.6 1061.4 L672.6 1061.6 L674.6 1061.8 L676.6 1062.1 L678.6 1062.3 L680.6 1062.5 L682.6 1062.7 L684.6 1062.9 L686.6 1063.1 L688.6 1063.3 L690.6 1063.4 L692.6 1063.6 L694.6 1063.8 L696.6 1064.0 L698.6 1064.2 L700.6 1064.3 L702.6 1064.5 L704.6 1064.7 L706.6 1064.9 L708.6 1065.0 L710.6 1065.2 L712.6 1065.3 L714.6 1065.5 L716.6 1065.7 L718.6 1065.8 L720.6 1066.0 L721.5 1066.0 L721.5 1073.1 L211.1 1073.1Z" fill="#b3d4f5"/>
<path d="M211.1 1060.6 L213.1 1060.8 L215.1 1061.0 L217.1 1061.2 L219.1 1061.3 L221.1 1061.5 L223.1 1061.6 L225.1 1061.7 L227.1 1061.7 L229.1 1061.7 L231.1 1061.7 L233.1 1061.7 L235.1 1061.7 L237.1 1061.7 L239.1 1061.7 L241.1 1061.6 L243.1 1061.5 L245.1 1061.3 L247.1 1061.1 L249.1 1060.8 L251.1 1060.5 L253.1 1060.3 L255.1 1060.0 L257.1 1059.8 L259.1 1059.7 L261.1 1059.5 L263.1 1059.4 L265.1 1059.2 L267.1 1059.0 L269.1 1058.9 L271.1 1058.8 L273.1 1058.7 L275.1 1058.6 L277.1 1058.6 L279.1 1058.6 L281.1 1058.6 L283.1 1058.6 L285.1 1058.6 L287.1 1058.6 L289.1 1058.6 L291.1 1058.6 L293.1 1058.7 L295.1 1058.8 L297.1 1059.0 L299.1 1059.1 L301.1 1059.3 L303.1 1059.5 L305.1 1059.7 L307.1 1059.8 L309.1 1060.0 L311.1 1060.2 L313.1 1060.5 L315.1 1060.7 L317.1 1061.0 L319.1 1061.2 L321.1 1061.5 L323.1 1061.8 L325.1 1062.0 L327.1 1062.3 L329.1 1062.5 L331.1 1062.7 L333.1 1063.0 L335.1 1063.2 L337.1 1063.5 L339.1 1063.7 L341.1 1064.0 L343.1 1064.2 L345.1 1064.4 L347.1 1064.6 L349.1 1064.9 L351.1 1065.1 L353.1 1065.3 L355.1 1065.5 L357.1 1065.7 L359.1 1065.9 L361.1 1066.1 L363.1 1066.3 L365.1 1066.4 L367.1 1066.5 L369.1 1066.7 L371.1 1066.8 L373.1 1066.9 L375.1 1067.0 L377.1 1067.0 L379.1 1067.0 L381.1 1066.9 L383.1 1066.8 L385.1 1066.7 L387.1 1066.5 L389.1 1066.4 L391.1 1066.2 L393.1 1066.1 L395.1 1065.9 L397.1 1065.7 L399.1 1065.4 L401.1 1065.1 L403.1 1064.8 L405.1 1064.5 L407.1 1064.3 L409.1 1064.1 L411.1 1064.0 L413.1 1063.8 L415.1 1063.7 L417.1 1063.6 L419.1 1063.6 L421.1 1063.5 L423.1 1063.5 L425.1 1063.5 L427.1 1063.5 L429.1 1063.6 L431.1 1063.6 L433.1 1063.7 L435.1 1063.8 L437.1 1063.9 L439.1 1064.0 L441.1 1064.1 L443.1 1064.2 L445.1 1064.4 L447.1 1064.5 L449.1 1064.7 L451.1 1064.9 L453.1 1065.1 L455.1 1065.3 L457.1 1065.4 L459.1 1065.6 L461.1 1065.8 L463.1 1065.9 L465.1 1066.1 L467.1 1066.3 L469.1 1066.4 L471.1 1066.6 L473.1 1066.7 L475.1 1066.9 L477.1 1067.1 L479.1 1067.2 L481.1 1067.3 L483.1 1067.5 L485.1 1067.6 L487.1 1067.7 L489.1 1067.8 L491.1 1068.0 L493.1 1068.1 L495.1 1068.2 L497.1 1068.3 L499.1 1068.4 L501.1 1068.5 L503.1 1068.6 L505.1 1068.7 L507.1 1068.8 L509.1 1068.8 L511.1 1068.9 L513.1 1069.0 L515.1 1069.1 L517.1 1069.2 L519.1 1069.2 L521.1 1069.3 L523.1 1069.4 L525.1 1069.5 L527.1 1069.5 L529.1 1069.6 L531.1 1069.7 L533.1 1069.8 L535.1 1069.8 L537.1 1069.9 L539.1 1070.0 L541.1 1070.0 L543.1 1070.1 L545.1 1070.2 L547.1 1070.2 L549.1 1070.3 L551.1 1070.4 L553.1 1070.4 L555.1 1070.5 L557.1 1070.6 L559.1 1070.6 L561.1 1070.7 L563.1 1070.8 L565.1 1070.8 L567.1 1070.9 L569.1 1070.9 L571.1 1071.0 L573.1 1071.0 L575.1 1071.0 L577.1 1071.1 L579.1 1071.1 L581.1 1071.2 L583.1 1071.2 L585.1 1071.2 L587.1 1071.3 L589.1 1071.3 L591.1 1071.3 L593.1 1071.4 L595.1 1071.4 L597.1 1071.4 L599.1 1071.4 L601.1 1071.5 L603.1 1071.5 L605.1 1071.5 L607.1 1071.6 L609.1 1071.6 L611.1 1071.6 L613.1 1071.6 L615.1 1071.6 L617.1 1071.7 L619.1 1071.7 L621.1 1071.7 L623.1 1071.7 L625.1 1071.8 L627.1 1071.8 L629.1 1071.8 L631.1 1071.8 L633.1 1071.8 L635.1 1071.9 L637.1 1071.9 L639.1 1071.9 L641.1 1071.9 L643.1 1071.9 L645.1 1071.9 L647.1 1072.0 L649.1 1072.0 L651.1 1072.0 L653.1 1072.0 L655.1 1072.0 L657.1 1072.0 L659.1 1072.1 L661.1 1072.1 L663.1 1072.1 L665.1 1072.1 L667.1 1072.1 L669.1 1072.1 L671.1 1072.2 L673.1 1072.2 L675.1 1072.2 L677.1 1072.2 L679.1 1072.2 L681.1 1072.2 L683.1 1072.2 L685.1 1072.3 L687.1 1072.3 L689.1 1072.3 L691.1 1072.3 L693.1 1072.3 L695.1 1072.3 L697.1 1072.3 L699.1 1072.3 L701.1 1072.4 L703.1 1072.4 L705.1 1072.4 L707.1 1072.4 L709.1 1072.4 L711.1 1072.4 L713.1 1072.4 L715.1 1072.4 L717.1 1072.4 L719.1 1072.4 L721.1 1072.4 L721.3 1072.4" fill="none" stroke="#3350ff" stroke-width="3.2" stroke-linejoin="round"/>
<line x1="207.8" y1="1065.6" x2="207.8" y2="1069.5" stroke="#3a3a3a" stroke-width="2.4"/>
<rect x="203.6" y="1069.5" width="8.4" height="4.7" fill="#141c26" stroke="#262626" stroke-width="2.1"/>
<line x1="250.1" y1="1063.1" x2="250.1" y2="1069.5" stroke="#3a3a3a" stroke-width="2.4"/>
<rect x="245.9" y="1069.5" width="8.4" height="4.3" fill="#141c26" stroke="#262626" stroke-width="2.1"/>
<line x1="292.3" y1="1027.1" x2="292.3" y2="1050.0" stroke="#3a3a3a" stroke-width="2.4"/>
<rect x="288.1" y="1050.0" width="8.4" height="23.4" fill="#1e90ff" stroke="#262626" stroke-width="2.1"/>
<line x1="288.1" y1="1071.1" x2="296.5" y2="1071.1" stroke="#262626" stroke-width="3.2"/>
<rect x="372.4" y="1064.6" width="8.4" height="8.8" fill="#1e90ff" stroke="#262626" stroke-width="2.1"/>
<line x1="372.4" y1="1071.5" x2="380.8" y2="1071.5" stroke="#262626" stroke-width="3.2"/>
<rect x="414.9" y="1067.4" width="8.4" height="6.4" fill="#1a78d0" stroke="#262626" stroke-width="2.1"/>
<line x1="414.9" y1="1068.0" x2="423.3" y2="1068.0" stroke="#262626" stroke-width="3.2"/>
<rect x="457.1" y="1066.6" width="8.4" height="6.8" fill="#141c26" stroke="#262626" stroke-width="2.1"/>
<rect x="541.5" y="1057.8" width="8.4" height="15.6" fill="#1e90ff" stroke="#262626" stroke-width="2.1"/>
<line x1="541.5" y1="1071.8" x2="549.9" y2="1071.8" stroke="#262626" stroke-width="3.2"/>
<rect x="626.2" y="1072.0" width="8.4" height="2.9" fill="#141c26" stroke="#262626" stroke-width="2.1"/>
<circle cx="207.8" cy="1045.6" r="4.9" fill="#1a1a1a"/>
<circle cx="250.1" cy="1020.6" r="4.9" fill="#1a1a1a"/>
<circle cx="376.6" cy="1041.7" r="4.9" fill="#1a1a1a"/>
<circle cx="376.6" cy="1046.9" r="4.9" fill="#1a1a1a"/>
<circle cx="419.1" cy="1016.0" r="4.9" fill="#1a1a1a"/>
<circle cx="419.1" cy="1055.9" r="4.9" fill="#1a1a1a"/>
<circle cx="461.3" cy="1047.1" r="4.9" fill="#1a1a1a"/>
<circle cx="545.7" cy="929.7" r="4.9" fill="#1a1a1a"/>
<circle cx="545.7" cy="1007.0" r="4.9" fill="#1a1a1a"/>
<path d="M150.9 716.0 V1092.7" fill="none" stroke="#2b2b2b" stroke-width="2.5"/>
<path d="M149.7 1091.2 H750.2" fill="none" stroke="#2b2b2b" stroke-width="3.0"/>
<line x1="142.4" y1="1073.4" x2="150.9" y2="1073.4" stroke="#222222" stroke-width="2.4"/>
<text class="tk" transform="translate(133.9 1084.3) scale(1 1.06)" text-anchor="end">0.0</text>
<line x1="142.4" y1="969.0" x2="150.9" y2="969.0" stroke="#222222" stroke-width="2.4"/>
<text class="tk" transform="translate(133.9 979.9) scale(1 1.06)" text-anchor="end">0.2</text>
<line x1="142.4" y1="864.4" x2="150.9" y2="864.4" stroke="#222222" stroke-width="2.4"/>
<text class="tk" transform="translate(133.9 875.3) scale(1 1.06)" text-anchor="end">0.4</text>
<line x1="142.4" y1="759.6" x2="150.9" y2="759.6" stroke="#222222" stroke-width="2.4"/>
<text class="tk" transform="translate(133.9 770.5) scale(1 1.06)" text-anchor="end">0.6</text>
<line x1="207.7" y1="1091.2" x2="207.7" y2="1099.7" stroke="#222222" stroke-width="2.4"/>
<text class="tk" transform="translate(207.7 1128.1) scale(1 1.06)" text-anchor="middle">0</text>
<line x1="358.4" y1="1091.2" x2="358.4" y2="1099.7" stroke="#222222" stroke-width="2.4"/>
<text class="tk" transform="translate(358.4 1128.1) scale(1 1.06)" text-anchor="middle">25</text>
<line x1="509.2" y1="1091.2" x2="509.2" y2="1099.7" stroke="#222222" stroke-width="2.4"/>
<text class="tk" transform="translate(509.2 1128.1) scale(1 1.06)" text-anchor="middle">50</text>
<line x1="660.0" y1="1091.2" x2="660.0" y2="1099.7" stroke="#222222" stroke-width="2.4"/>
<text class="tk" transform="translate(660.0 1128.1) scale(1 1.06)" text-anchor="middle">75</text>
<text class="ti" x="449.5" y="1169.6" text-anchor="middle">Days</text>
<text class="ti" transform="translate(38.6 909.4) rotate(-90)" text-anchor="middle">EM Cytokine+ T cells</text>
<text class="ti" transform="translate(74.5 901.8) rotate(-90)" text-anchor="middle">(% of CD4+ T cells)</text></g>
<g><path d="M975.6 1071.0 L977.6 1059.8 L979.6 1045.4 L981.6 1024.3 L983.6 1007.8 L985.6 997.3 L987.6 991.3 L989.6 987.8 L991.6 985.7 L993.6 984.5 L995.6 983.8 L997.6 983.8 L999.6 984.3 L1001.6 984.9 L1003.6 985.5 L1005.6 986.0 L1007.6 986.5 L1009.6 987.0 L1011.6 987.5 L1013.6 988.1 L1015.6 988.6 L1017.6 989.1 L1019.6 989.6 L1021.6 990.1 L1023.6 990.6 L1025.6 991.1 L1027.6 991.6 L1029.6 992.1 L1031.6 992.6 L1033.6 993.1 L1035.6 993.6 L1037.6 994.1 L1039.6 994.6 L1041.6 995.1 L1043.6 995.6 L1045.6 996.1 L1047.6 996.6 L1049.6 997.1 L1051.6 997.6 L1053.6 998.1 L1055.6 998.6 L1057.6 999.1 L1059.6 999.6 L1061.6 1000.1 L1063.6 1000.6 L1065.6 1001.1 L1067.6 1001.6 L1069.6 1002.1 L1071.6 1002.6 L1073.6 1003.1 L1075.6 1003.6 L1077.6 1004.1 L1079.6 1004.6 L1081.6 1005.1 L1083.6 1005.6 L1085.6 1006.2 L1087.6 1006.7 L1089.6 1007.2 L1091.6 1007.7 L1093.6 1008.2 L1095.6 1008.7 L1097.6 1009.2 L1099.6 1009.7 L1101.6 1010.2 L1103.1 1010.6 L1105.1 1009.8 L1107.1 1008.0 L1109.1 1004.7 L1111.1 995.6 L1113.1 972.1 L1115.1 936.2 L1117.1 899.4 L1119.1 875.6 L1121.1 862.9 L1123.1 856.6 L1125.1 853.9 L1127.1 852.9 L1129.1 853.1 L1131.1 853.4 L1133.1 854.3 L1135.1 855.8 L1137.1 857.1 L1139.1 858.4 L1141.1 859.7 L1143.1 861.1 L1145.1 862.5 L1147.1 863.8 L1149.1 865.2 L1151.1 866.5 L1153.1 867.8 L1155.1 869.1 L1157.1 870.4 L1159.1 871.6 L1161.1 872.8 L1163.1 874.0 L1165.1 875.2 L1167.1 876.3 L1169.1 877.5 L1171.1 878.7 L1173.1 879.9 L1175.1 881.1 L1177.1 882.3 L1179.1 883.5 L1181.1 884.7 L1183.1 885.9 L1185.1 887.2 L1187.1 888.4 L1189.1 889.6 L1191.1 890.8 L1193.1 892.1 L1195.1 893.3 L1197.1 894.5 L1199.1 895.7 L1201.1 896.9 L1203.1 898.1 L1205.1 899.3 L1207.1 900.5 L1209.1 901.6 L1211.1 902.8 L1213.1 903.9 L1215.1 905.0 L1217.1 906.2 L1219.1 907.2 L1221.1 908.3 L1223.1 909.4 L1225.1 910.4 L1227.1 911.5 L1229.1 912.5 L1231.1 913.5 L1233.1 914.5 L1235.1 915.4 L1237.1 916.4 L1239.1 917.4 L1239.5 917.5 L1241.5 915.1 L1243.5 910.2 L1245.5 903.0 L1247.5 886.3 L1249.5 849.7 L1251.5 812.8 L1253.5 787.7 L1255.5 772.3 L1257.5 763.1 L1259.5 758.1 L1261.5 756.4 L1263.5 756.0 L1265.5 757.1 L1267.5 758.8 L1269.5 760.5 L1271.5 762.5 L1273.5 764.7 L1275.5 766.8 L1277.5 768.9 L1279.5 770.8 L1281.5 772.6 L1283.5 774.5 L1285.5 776.3 L1287.5 778.1 L1289.5 779.9 L1291.5 781.6 L1293.5 783.4 L1295.5 785.1 L1297.5 786.9 L1299.5 788.6 L1301.5 790.4 L1303.5 792.1 L1305.5 793.8 L1307.5 795.6 L1309.5 797.3 L1311.5 799.0 L1313.5 800.6 L1315.5 802.2 L1317.5 803.8 L1319.5 805.4 L1321.5 807.0 L1323.5 808.5 L1325.5 810.0 L1327.5 811.5 L1329.5 813.0 L1331.5 814.4 L1333.5 815.9 L1335.5 817.3 L1337.5 818.8 L1339.5 820.2 L1341.5 821.6 L1343.5 823.0 L1345.5 824.4 L1347.5 825.8 L1349.5 827.2 L1351.5 828.6 L1353.5 829.9 L1355.5 831.3 L1357.5 832.7 L1359.5 834.1 L1361.5 835.5 L1363.5 836.9 L1365.5 838.3 L1367.5 839.7 L1369.5 841.1 L1371.5 842.5 L1373.5 843.9 L1375.5 845.3 L1377.5 846.7 L1379.5 848.2 L1381.5 849.6 L1383.5 851.0 L1385.5 852.4 L1387.5 853.8 L1389.5 855.2 L1391.5 856.6 L1393.5 858.0 L1395.5 859.3 L1397.5 860.7 L1399.5 862.0 L1401.5 863.3 L1403.5 864.6 L1405.5 865.9 L1407.5 867.1 L1409.5 868.4 L1411.5 869.7 L1413.5 871.0 L1415.5 872.3 L1417.5 873.6 L1419.5 874.9 L1421.5 876.2 L1423.5 877.6 L1425.5 878.9 L1427.5 880.2 L1429.5 881.5 L1431.5 882.7 L1433.5 884.0 L1435.5 885.2 L1437.5 886.4 L1439.5 887.6 L1441.5 888.8 L1443.5 890.0 L1445.5 891.1 L1447.5 892.3 L1449.5 893.5 L1451.5 894.8 L1453.5 896.0 L1455.5 897.3 L1457.5 898.6 L1459.5 900.0 L1461.5 901.3 L1463.5 902.7 L1465.5 904.1 L1467.5 905.5 L1469.5 907.0 L1471.5 908.4 L1473.5 909.9 L1475.9 911.3 L1475.9 1073.0 L975.6 1073.0Z" fill="#e6b2b2"/>
<path d="M968.2 1071.9 L970.2 1071.7 L972.2 1071.2 L974.2 1070.5 L976.2 1069.5 L978.2 1068.0 L980.2 1066.1 L982.2 1064.4 L984.2 1062.9 L986.2 1062.5 L988.2 1062.3 L990.2 1062.2 L992.2 1062.2 L994.2 1062.3 L996.2 1062.5 L998.2 1062.7 L1000.2 1062.9 L1002.2 1063.0 L1004.2 1063.2 L1006.2 1063.3 L1008.2 1063.3 L1010.2 1063.4 L1012.2 1063.5 L1014.2 1063.5 L1016.2 1063.6 L1018.2 1063.7 L1020.2 1063.7 L1022.2 1063.8 L1024.2 1063.8 L1026.2 1063.9 L1028.2 1063.9 L1030.2 1064.0 L1032.2 1064.0 L1034.2 1064.1 L1036.2 1064.1 L1038.2 1064.2 L1040.2 1064.2 L1042.2 1064.3 L1044.2 1064.3 L1046.2 1064.4 L1048.2 1064.4 L1050.2 1064.5 L1052.2 1064.5 L1054.2 1064.6 L1056.2 1064.6 L1058.2 1064.7 L1060.2 1064.8 L1062.2 1064.8 L1064.2 1064.9 L1066.2 1064.9 L1068.2 1065.0 L1070.2 1065.0 L1072.2 1065.1 L1074.2 1065.1 L1076.2 1065.2 L1078.2 1065.2 L1080.2 1065.2 L1082.2 1065.3 L1084.2 1065.3 L1086.2 1065.4 L1088.2 1065.4 L1090.2 1065.4 L1092.2 1065.4 L1094.2 1065.5 L1096.2 1065.5 L1098.2 1065.5 L1100.2 1065.5 L1102.2 1065.5 L1104.2 1065.5 L1106.2 1065.3 L1108.2 1065.0 L1110.2 1064.4 L1112.2 1062.9 L1114.2 1061.6 L1116.2 1060.5 L1118.2 1060.1 L1120.2 1059.8 L1122.2 1059.7 L1124.2 1059.7 L1126.2 1059.7 L1128.2 1059.7 L1130.2 1059.8 L1132.2 1059.8 L1134.2 1059.8 L1136.2 1059.9 L1138.2 1059.9 L1140.2 1060.0 L1142.2 1060.1 L1144.2 1060.1 L1146.2 1060.2 L1148.2 1060.3 L1150.2 1060.3 L1152.2 1060.4 L1154.2 1060.5 L1156.2 1060.6 L1158.2 1060.6 L1160.2 1060.7 L1162.2 1060.8 L1164.2 1060.9 L1166.2 1061.0 L1168.2 1061.1 L1170.2 1061.2 L1172.2 1061.3 L1174.2 1061.4 L1176.2 1061.5 L1178.2 1061.6 L1180.2 1061.7 L1182.2 1061.8 L1184.2 1061.8 L1186.2 1062.0 L1188.2 1062.1 L1190.2 1062.2 L1192.2 1062.3 L1194.2 1062.5 L1196.2 1062.6 L1198.2 1062.7 L1200.2 1062.9 L1202.2 1063.0 L1204.2 1063.2 L1206.2 1063.3 L1208.2 1063.5 L1210.2 1063.6 L1212.2 1063.8 L1214.2 1063.9 L1216.2 1064.0 L1218.2 1064.2 L1220.2 1064.3 L1222.2 1064.4 L1224.2 1064.5 L1226.2 1064.6 L1228.2 1064.6 L1230.2 1064.7 L1232.2 1064.7 L1234.2 1064.7 L1236.2 1064.7 L1238.2 1064.5 L1240.2 1064.2 L1242.2 1063.8 L1244.2 1063.3 L1246.2 1062.5 L1248.2 1061.1 L1250.2 1059.8 L1252.2 1059.1 L1254.2 1058.6 L1256.2 1058.3 L1258.2 1058.3 L1260.2 1058.4 L1262.2 1058.4 L1264.2 1058.5 L1266.2 1058.6 L1268.2 1058.7 L1270.2 1058.8 L1272.2 1059.0 L1274.2 1059.1 L1276.2 1059.2 L1278.2 1059.3 L1280.2 1059.4 L1282.2 1059.5 L1284.2 1059.6 L1286.2 1059.7 L1288.2 1059.8 L1290.2 1059.9 L1292.2 1060.0 L1294.2 1060.1 L1296.2 1060.2 L1298.2 1060.3 L1300.2 1060.4 L1302.2 1060.5 L1304.2 1060.6 L1306.2 1060.7 L1308.2 1060.8 L1310.2 1060.9 L1312.2 1061.0 L1314.2 1061.1 L1316.2 1061.2 L1318.2 1061.3 L1320.2 1061.4 L1322.2 1061.5 L1324.2 1061.6 L1326.2 1061.7 L1328.2 1061.8 L1330.2 1061.9 L1332.2 1062.0 L1334.2 1062.1 L1336.2 1062.2 L1338.2 1062.3 L1340.2 1062.4 L1342.2 1062.5 L1344.2 1062.6 L1346.2 1062.7 L1348.2 1062.8 L1350.2 1062.9 L1352.2 1063.0 L1354.2 1063.1 L1356.2 1063.2 L1358.2 1063.3 L1360.2 1063.4 L1362.2 1063.5 L1364.2 1063.6 L1366.2 1063.7 L1368.2 1063.7 L1370.2 1063.8 L1372.2 1063.9 L1374.2 1064.0 L1376.2 1064.1 L1378.2 1064.2 L1380.2 1064.3 L1382.2 1064.3 L1384.2 1064.4 L1386.2 1064.5 L1388.2 1064.5 L1390.2 1064.6 L1392.2 1064.7 L1394.2 1064.7 L1396.2 1064.8 L1398.2 1064.8 L1400.2 1064.9 L1402.2 1064.9 L1404.2 1065.0 L1406.2 1065.0 L1408.2 1065.1 L1410.2 1065.1 L1412.2 1065.2 L1414.2 1065.2 L1416.2 1065.2 L1418.2 1065.3 L1420.2 1065.3 L1422.2 1065.4 L1424.2 1065.4 L1426.2 1065.5 L1428.2 1065.5 L1430.2 1065.5 L1432.2 1065.6 L1434.2 1065.6 L1436.2 1065.7 L1438.2 1065.7 L1440.2 1065.7 L1442.2 1065.8 L1444.2 1065.8 L1446.2 1065.8 L1448.2 1065.9 L1450.2 1065.9 L1452.2 1065.9 L1454.2 1065.9 L1456.2 1066.0 L1458.2 1066.0 L1460.2 1066.0 L1462.2 1066.0 L1464.2 1066.0 L1466.2 1066.0 L1468.2 1066.1 L1470.2 1066.1 L1472.2 1066.1 L1474.2 1066.1 L1475.5 1066.1" fill="none" stroke="#f8402f" stroke-width="3.2" stroke-linejoin="round"/>
<rect x="964.6" y="1070.6" width="7.3" height="1.9" fill="#cd5c5c" stroke="#1e1e1e" stroke-width="2.1"/>
<line x1="964.6" y1="1071.5" x2="971.9" y2="1071.5" stroke="#1e1e1e" stroke-width="3.2"/>
<rect x="998.3" y="1058.9" width="7.3" height="11.7" fill="#cd5c5c" stroke="#1e1e1e" stroke-width="2.1"/>
<line x1="998.3" y1="1069.0" x2="1005.6" y2="1069.0" stroke="#1e1e1e" stroke-width="3.2"/>
<rect x="1099.5" y="1064.7" width="7.3" height="6.6" fill="#cd5c5c" stroke="#1e1e1e" stroke-width="2.1"/>
<line x1="1099.5" y1="1068.0" x2="1106.8" y2="1068.0" stroke="#1e1e1e" stroke-width="3.2"/>
<line x1="1137.0" y1="1012.6" x2="1137.0" y2="1016.1" stroke="#3a3a3a" stroke-width="2.4"/>
<rect x="1133.4" y="1016.1" width="7.3" height="52.6" fill="#cd5c5c" stroke="#1e1e1e" stroke-width="2.1"/>
<line x1="1133.4" y1="1048.6" x2="1140.7" y2="1048.6" stroke="#1e1e1e" stroke-width="3.2"/>
<line x1="1238.4" y1="1037.9" x2="1238.4" y2="1048.0" stroke="#3a3a3a" stroke-width="2.4"/>
<rect x="1234.7" y="1048.0" width="7.3" height="20.6" fill="#cd5c5c" stroke="#1e1e1e" stroke-width="2.1"/>
<line x1="1234.7" y1="1064.7" x2="1242.0" y2="1064.7" stroke="#1e1e1e" stroke-width="3.2"/>
<line x1="1272.0" y1="1027.2" x2="1272.0" y2="1047.2" stroke="#3a3a3a" stroke-width="2.4"/>
<rect x="1268.4" y="1047.2" width="7.3" height="21.4" fill="#cd5c5c" stroke="#1e1e1e" stroke-width="2.1"/>
<line x1="1268.4" y1="1056.4" x2="1275.7" y2="1056.4" stroke="#1e1e1e" stroke-width="3.2"/>
<rect x="1471.2" y="1063.6" width="7.3" height="7.0" fill="#cd5c5c" stroke="#1e1e1e" stroke-width="2.1"/>
<line x1="1471.2" y1="1067.1" x2="1478.5" y2="1067.1" stroke="#1e1e1e" stroke-width="3.2"/>
<circle cx="968.2" cy="1060.2" r="4.9" fill="#1a1a1a"/>
<circle cx="1001.9" cy="989.2" r="4.9" fill="#1a1a1a"/>
<circle cx="1001.9" cy="1038.8" r="4.9" fill="#1a1a1a"/>
<circle cx="1103.1" cy="1044.7" r="4.9" fill="#1a1a1a"/>
<circle cx="1137.0" cy="878.6" r="4.9" fill="#1a1a1a"/>
<circle cx="1238.4" cy="1010.2" r="4.9" fill="#1a1a1a"/>
<circle cx="1474.9" cy="1001.8" r="4.9" fill="#1a1a1a"/>
<path d="M928.7 716.0 V1092.7" fill="none" stroke="#2b2b2b" stroke-width="2.5"/>
<path d="M927.5 1091.2 H1528.3" fill="none" stroke="#2b2b2b" stroke-width="3.0"/>
<line x1="920.2" y1="1073.4" x2="928.7" y2="1073.4" stroke="#222222" stroke-width="2.4"/>
<text class="tk" transform="translate(911.7 1084.3) scale(1 1.06)" text-anchor="end">0.0</text>
<line x1="920.2" y1="969.0" x2="928.7" y2="969.0" stroke="#222222" stroke-width="2.4"/>
<text class="tk" transform="translate(911.7 979.9) scale(1 1.06)" text-anchor="end">0.2</text>
<line x1="920.2" y1="864.4" x2="928.7" y2="864.4" stroke="#222222" stroke-width="2.4"/>
<text class="tk" transform="translate(911.7 875.3) scale(1 1.06)" text-anchor="end">0.4</text>
<line x1="920.2" y1="759.6" x2="928.7" y2="759.6" stroke="#222222" stroke-width="2.4"/>
<text class="tk" transform="translate(911.7 770.5) scale(1 1.06)" text-anchor="end">0.6</text>
<line x1="967.7" y1="1091.2" x2="967.7" y2="1099.7" stroke="#222222" stroke-width="2.4"/>
<text class="tk" transform="translate(967.7 1128.1) scale(1 1.06)" text-anchor="middle">0</text>
<line x1="1088.6" y1="1091.2" x2="1088.6" y2="1099.7" stroke="#222222" stroke-width="2.4"/>
<text class="tk" transform="translate(1088.6 1128.1) scale(1 1.06)" text-anchor="middle">50</text>
<line x1="1209.5" y1="1091.2" x2="1209.5" y2="1099.7" stroke="#222222" stroke-width="2.4"/>
<text class="tk" transform="translate(1209.5 1128.1) scale(1 1.06)" text-anchor="middle">100</text>
<line x1="1330.4" y1="1091.2" x2="1330.4" y2="1099.7" stroke="#222222" stroke-width="2.4"/>
<text class="tk" transform="translate(1330.4 1128.1) scale(1 1.06)" text-anchor="middle">150</text>
<line x1="1451.3" y1="1091.2" x2="1451.3" y2="1099.7" stroke="#222222" stroke-width="2.4"/>
<text class="tk" transform="translate(1451.3 1128.1) scale(1 1.06)" text-anchor="middle">200</text>
<text class="ti" x="1227.9" y="1169.6" text-anchor="middle">Days</text></g>
<g><path d="M184.9 1558.3 L186.9 1558.7 L188.9 1559.2 L190.9 1559.7 L192.9 1560.3 L194.9 1560.9 L196.9 1561.6 L198.9 1562.2 L200.9 1562.9 L202.9 1563.6 L204.9 1564.4 L206.9 1565.0 L208.9 1565.6 L210.9 1566.1 L212.9 1566.5 L214.9 1566.9 L216.9 1567.1 L218.9 1566.8 L220.9 1565.8 L222.9 1564.3 L224.9 1562.5 L226.9 1559.6 L228.9 1555.8 L230.9 1551.7 L232.9 1547.0 L234.9 1541.9 L236.9 1536.5 L238.9 1531.2 L240.9 1525.5 L242.9 1519.8 L244.9 1514.4 L246.9 1509.5 L248.9 1504.8 L250.9 1500.5 L252.9 1496.8 L254.9 1493.9 L256.9 1491.2 L258.9 1489.0 L260.9 1487.4 L262.9 1486.4 L264.9 1485.7 L266.9 1485.3 L268.9 1485.6 L270.9 1486.3 L272.9 1487.3 L274.9 1488.8 L276.9 1491.1 L278.9 1493.3 L280.9 1495.3 L282.9 1497.2 L284.9 1499.2 L286.9 1501.2 L288.9 1503.2 L290.9 1505.2 L292.9 1507.2 L294.9 1509.2 L296.9 1511.3 L298.9 1513.4 L300.9 1515.5 L302.9 1517.6 L304.9 1519.8 L306.9 1521.9 L308.9 1524.1 L310.9 1526.2 L312.9 1528.3 L314.9 1530.3 L316.9 1532.2 L318.9 1534.1 L320.9 1536.0 L322.9 1537.9 L324.9 1539.8 L326.9 1541.6 L328.9 1543.3 L330.9 1545.1 L332.9 1546.7 L334.9 1548.3 L336.9 1549.9 L338.9 1551.4 L340.9 1552.8 L342.9 1554.2 L344.9 1555.6 L346.9 1556.9 L348.9 1558.3 L350.9 1559.6 L352.9 1561.0 L354.9 1562.4 L356.9 1563.8 L358.9 1565.2 L360.9 1566.6 L362.9 1568.1 L363.4 1568.4 L365.4 1567.7 L367.4 1566.2 L369.4 1564.1 L371.4 1561.4 L373.4 1557.0 L375.4 1551.8 L377.4 1546.9 L379.4 1542.9 L381.4 1539.2 L383.4 1535.7 L385.4 1532.6 L387.4 1529.8 L389.4 1527.2 L391.4 1524.9 L393.4 1523.4 L395.4 1522.3 L397.4 1521.4 L399.4 1520.6 L401.4 1520.1 L403.4 1520.0 L405.4 1520.1 L407.4 1520.3 L409.4 1520.6 L411.4 1521.0 L413.4 1521.4 L415.4 1521.9 L417.4 1522.7 L419.4 1523.6 L421.4 1524.6 L423.4 1525.6 L425.4 1526.8 L427.4 1528.0 L429.4 1529.2 L431.4 1530.4 L433.4 1531.6 L435.4 1532.8 L437.4 1534.1 L439.4 1535.4 L441.4 1536.8 L443.4 1538.2 L445.4 1539.6 L447.4 1541.0 L449.4 1542.5 L451.4 1543.9 L453.4 1545.4 L455.4 1546.8 L457.4 1548.2 L459.4 1549.5 L461.4 1550.9 L463.4 1552.2 L465.4 1553.6 L467.4 1554.9 L469.4 1556.3 L471.4 1557.6 L473.4 1558.9 L475.4 1560.1 L477.4 1561.3 L479.4 1562.5 L481.4 1563.6 L483.4 1564.7 L485.4 1565.7 L487.4 1566.7 L489.4 1567.7 L491.4 1568.7 L493.4 1569.6 L495.4 1570.6 L497.4 1571.5 L499.4 1572.4 L501.4 1573.3 L503.4 1574.2 L505.4 1575.1 L507.4 1575.9 L509.4 1576.8 L511.4 1577.6 L513.4 1578.4 L515.4 1579.2 L517.4 1580.0 L519.4 1580.7 L521.4 1581.4 L523.4 1582.1 L525.4 1582.8 L527.4 1583.4 L529.4 1584.1 L531.4 1584.7 L533.4 1585.3 L535.4 1585.9 L537.4 1586.6 L539.4 1587.2 L541.4 1587.8 L543.4 1588.5 L545.4 1589.1 L547.4 1589.8 L549.4 1590.4 L551.4 1591.0 L553.4 1591.5 L555.4 1592.0 L557.4 1592.5 L559.4 1593.0 L561.4 1593.4 L563.4 1593.8 L565.4 1594.2 L567.4 1594.6 L569.4 1595.0 L571.4 1595.3 L573.4 1595.7 L575.4 1596.1 L577.4 1596.5 L579.4 1596.9 L581.4 1597.3 L583.4 1597.8 L585.4 1598.2 L587.4 1598.6 L589.4 1599.0 L591.4 1599.4 L593.4 1599.8 L595.4 1600.1 L597.4 1600.5 L599.4 1600.8 L601.4 1601.1 L603.4 1601.4 L605.4 1601.7 L607.4 1602.0 L609.4 1602.3 L611.4 1602.6 L613.4 1602.8 L615.4 1603.1 L617.4 1603.4 L619.4 1603.7 L621.4 1604.0 L623.4 1604.2 L625.4 1604.5 L627.4 1604.8 L629.4 1605.0 L631.4 1605.3 L633.4 1605.5 L635.4 1605.7 L637.4 1605.9 L639.4 1606.1 L641.4 1606.3 L643.4 1606.5 L645.4 1606.7 L647.4 1606.8 L649.4 1607.0 L651.4 1607.2 L653.4 1607.3 L655.4 1607.5 L657.4 1607.6 L659.4 1607.8 L661.4 1607.9 L663.4 1608.1 L665.4 1608.2 L667.4 1608.3 L669.4 1608.5 L671.4 1608.6 L673.4 1608.7 L675.4 1608.9 L677.4 1609.0 L679.4 1609.1 L681.4 1609.2 L683.4 1609.4 L685.4 1609.5 L687.4 1609.6 L689.4 1609.7 L691.4 1609.8 L693.4 1609.9 L695.4 1610.0 L697.4 1610.1 L699.4 1610.2 L701.4 1610.3 L703.4 1610.3 L705.4 1610.4 L707.4 1610.5 L709.4 1610.6 L711.4 1610.6 L713.4 1610.7 L715.4 1610.7 L717.4 1610.8 L719.4 1610.8 L721.5 1610.9 L721.5 1610.9 L184.9 1610.9Z" fill="#b3d4f5"/>
<path d="M184.9 1587.5 L186.9 1588.2 L188.9 1588.8 L190.9 1589.4 L192.9 1590.0 L194.9 1590.5 L196.9 1591.0 L198.9 1591.4 L200.9 1591.8 L202.9 1592.1 L204.9 1592.4 L206.9 1592.7 L208.9 1593.0 L210.9 1593.2 L212.9 1593.3 L214.9 1593.4 L216.9 1593.2 L218.9 1592.9 L220.9 1592.6 L222.9 1592.2 L224.9 1591.8 L226.9 1591.5 L228.9 1591.4 L230.9 1591.2 L232.9 1591.1 L234.9 1591.0 L236.9 1591.0 L238.9 1590.9 L240.9 1590.8 L242.9 1590.8 L244.9 1590.8 L246.9 1590.9 L248.9 1591.1 L250.9 1591.3 L252.9 1591.6 L254.9 1591.9 L256.9 1592.2 L258.9 1592.4 L260.9 1592.7 L262.9 1593.0 L264.9 1593.3 L266.9 1593.6 L268.9 1594.0 L270.9 1594.3 L272.9 1594.6 L274.9 1595.0 L276.9 1595.3 L278.9 1595.7 L280.9 1596.0 L282.9 1596.3 L284.9 1596.7 L286.9 1597.0 L288.9 1597.4 L290.9 1597.7 L292.9 1598.1 L294.9 1598.4 L296.9 1598.7 L298.9 1599.1 L300.9 1599.4 L302.9 1599.7 L304.9 1600.1 L306.9 1600.4 L308.9 1600.7 L310.9 1601.0 L312.9 1601.3 L314.9 1601.6 L316.9 1601.9 L318.9 1602.2 L320.9 1602.4 L322.9 1602.7 L324.9 1602.9 L326.9 1603.2 L328.9 1603.4 L330.9 1603.6 L332.9 1603.8 L334.9 1604.0 L336.9 1604.2 L338.9 1604.4 L340.9 1604.6 L342.9 1604.8 L344.9 1604.9 L346.9 1605.1 L348.9 1605.3 L350.9 1605.4 L352.9 1605.5 L354.9 1605.6 L356.9 1605.7 L358.9 1605.8 L360.9 1605.9 L362.9 1606.0 L364.9 1606.0 L366.9 1605.9 L368.9 1605.7 L370.9 1605.4 L372.9 1605.0 L374.9 1604.6 L376.9 1604.3 L378.9 1603.9 L380.9 1603.5 L382.9 1603.0 L384.9 1602.5 L386.9 1602.0 L388.9 1601.5 L390.9 1601.0 L392.9 1600.7 L394.9 1600.4 L396.9 1600.0 L398.9 1599.7 L400.9 1599.5 L402.9 1599.3 L404.9 1599.2 L406.9 1599.2 L408.9 1599.3 L410.9 1599.4 L412.9 1599.6 L414.9 1599.8 L416.9 1600.0 L418.9 1600.2 L420.9 1600.4 L422.9 1600.6 L424.9 1600.7 L426.9 1600.9 L428.9 1601.1 L430.9 1601.3 L432.9 1601.4 L434.9 1601.6 L436.9 1601.8 L438.9 1602.0 L440.9 1602.2 L442.9 1602.4 L444.9 1602.6 L446.9 1602.9 L448.9 1603.1 L450.9 1603.3 L452.9 1603.5 L454.9 1603.8 L456.9 1604.0 L458.9 1604.2 L460.9 1604.4 L462.9 1604.6 L464.9 1604.8 L466.9 1605.0 L468.9 1605.3 L470.9 1605.5 L472.9 1605.7 L474.9 1605.8 L476.9 1606.0 L478.9 1606.2 L480.9 1606.4 L482.9 1606.5 L484.9 1606.7 L486.9 1606.8 L488.9 1607.0 L490.9 1607.1 L492.9 1607.2 L494.9 1607.4 L496.9 1607.5 L498.9 1607.6 L500.9 1607.7 L502.9 1607.8 L504.9 1607.9 L506.9 1608.0 L508.9 1608.1 L510.9 1608.2 L512.9 1608.3 L514.9 1608.4 L516.9 1608.5 L518.9 1608.6 L520.9 1608.7 L522.9 1608.7 L524.9 1608.8 L526.9 1608.9 L528.9 1609.0 L530.9 1609.1 L532.9 1609.1 L534.9 1609.2 L536.9 1609.3 L538.9 1609.4 L540.9 1609.5 L542.9 1609.5 L544.9 1609.6 L546.9 1609.7 L548.9 1609.7 L550.9 1609.8 L552.9 1609.8 L554.9 1609.9 L556.9 1609.9 L558.9 1609.9 L560.9 1610.0 L562.9 1610.0 L564.9 1610.0 L566.9 1610.1 L568.9 1610.1 L570.9 1610.1 L572.9 1610.1 L574.9 1610.2 L576.9 1610.2 L578.9 1610.2 L580.9 1610.2 L582.9 1610.2 L584.9 1610.3 L586.9 1610.3 L588.9 1610.3 L590.9 1610.3 L592.9 1610.3 L594.9 1610.4 L596.9 1610.4 L598.9 1610.4 L600.9 1610.4 L602.9 1610.4 L604.9 1610.4 L606.9 1610.4 L608.9 1610.4 L610.9 1610.5 L612.9 1610.5 L614.9 1610.5 L616.9 1610.5 L618.9 1610.5 L620.9 1610.5 L622.9 1610.5 L624.9 1610.5 L626.9 1610.6 L628.9 1610.6 L630.9 1610.6 L632.9 1610.6 L634.9 1610.6 L636.9 1610.6 L638.9 1610.6 L640.9 1610.6 L642.9 1610.6 L644.9 1610.6 L646.9 1610.7 L648.9 1610.7 L650.9 1610.7 L652.9 1610.7 L654.9 1610.7 L656.9 1610.7 L658.9 1610.7 L660.9 1610.7 L662.9 1610.7 L664.9 1610.7 L666.9 1610.8 L668.9 1610.8 L670.9 1610.8 L672.9 1610.8 L674.9 1610.8 L676.9 1610.8 L678.9 1610.8 L680.9 1610.8 L682.9 1610.8 L684.9 1610.8 L686.9 1610.8 L688.9 1610.8 L690.9 1610.8 L692.9 1610.8 L694.9 1610.8 L696.9 1610.8 L698.9 1610.9 L700.9 1610.9 L702.9 1610.9 L704.9 1610.9 L706.9 1610.9 L708.9 1610.9 L710.9 1610.9 L712.9 1610.9 L714.9 1610.9 L716.9 1610.9 L718.9 1610.9 L720.9 1610.9 L721.3 1610.9" fill="none" stroke="#3350ff" stroke-width="3.2" stroke-linejoin="round"/>
<rect x="180.1" y="1519.0" width="8.4" height="92.1" fill="#1e90ff" stroke="#262626" stroke-width="2.1"/>
<line x1="180.1" y1="1599.2" x2="188.5" y2="1599.2" stroke="#262626" stroke-width="3.2"/>
<line x1="228.1" y1="1570.0" x2="228.1" y2="1590.6" stroke="#3a3a3a" stroke-width="2.4"/>
<rect x="223.9" y="1590.6" width="8.4" height="20.4" fill="#1e90ff" stroke="#262626" stroke-width="2.1"/>
<line x1="223.9" y1="1600.2" x2="232.3" y2="1600.2" stroke="#262626" stroke-width="3.2"/>
<line x1="272.3" y1="1586.5" x2="272.3" y2="1594.9" stroke="#3a3a3a" stroke-width="2.4"/>
<rect x="268.1" y="1594.9" width="8.4" height="17.5" fill="#1e90ff" stroke="#262626" stroke-width="2.1"/>
<line x1="360.9" y1="1557.3" x2="360.9" y2="1587.1" stroke="#3a3a3a" stroke-width="2.4"/>
<rect x="356.7" y="1587.1" width="8.4" height="23.9" fill="#1e90ff" stroke="#262626" stroke-width="2.1"/>
<line x1="356.7" y1="1605.0" x2="365.1" y2="1605.0" stroke="#262626" stroke-width="3.2"/>
<line x1="404.9" y1="1526.2" x2="404.9" y2="1573.1" stroke="#3a3a3a" stroke-width="2.4"/>
<rect x="400.7" y="1573.1" width="8.4" height="37.4" fill="#1e90ff" stroke="#262626" stroke-width="2.1"/>
<line x1="400.7" y1="1609.3" x2="409.1" y2="1609.3" stroke="#262626" stroke-width="3.2"/>
<rect x="444.6" y="1604.1" width="8.4" height="7.4" fill="#141c26" stroke="#262626" stroke-width="2.1"/>
<rect x="533.1" y="1608.0" width="8.4" height="3.9" fill="#141c26" stroke="#262626" stroke-width="2.1"/>
<rect x="621.7" y="1596.3" width="8.4" height="14.8" fill="#1e90ff" stroke="#262626" stroke-width="2.1"/>
<line x1="621.7" y1="1605.0" x2="630.1" y2="1605.0" stroke="#262626" stroke-width="3.2"/>
<circle cx="184.3" cy="1298.2" r="4.9" fill="#1a1a1a"/>
<circle cx="184.3" cy="1322.9" r="4.9" fill="#1a1a1a"/>
<circle cx="448.8" cy="1585.0" r="4.4" fill="#1a1a1a"/>
<circle cx="448.8" cy="1590.0" r="4.4" fill="#1a1a1a"/>
<circle cx="448.8" cy="1595.1" r="4.4" fill="#1a1a1a"/>
<circle cx="625.9" cy="1564.7" r="4.9" fill="#1a1a1a"/>
<path d="M150.9 1254.0 V1630.7" fill="none" stroke="#2b2b2b" stroke-width="2.5"/>
<path d="M149.7 1629.2 H750.2" fill="none" stroke="#2b2b2b" stroke-width="3.0"/>
<line x1="142.4" y1="1611.3" x2="150.9" y2="1611.3" stroke="#222222" stroke-width="2.4"/>
<text class="tk" transform="translate(133.9 1622.2) scale(1 1.06)" text-anchor="end">0.0</text>
<line x1="142.4" y1="1489.8" x2="150.9" y2="1489.8" stroke="#222222" stroke-width="2.4"/>
<text class="tk" transform="translate(133.9 1500.7) scale(1 1.06)" text-anchor="end">0.5</text>
<line x1="142.4" y1="1368.9" x2="150.9" y2="1368.9" stroke="#222222" stroke-width="2.4"/>
<text class="tk" transform="translate(133.9 1379.8) scale(1 1.06)" text-anchor="end">1.0</text>
<line x1="184.1" y1="1629.2" x2="184.1" y2="1637.7" stroke="#222222" stroke-width="2.4"/>
<text class="tk" transform="translate(184.1 1666.1) scale(1 1.06)" text-anchor="middle">0</text>
<line x1="310.3" y1="1629.2" x2="310.3" y2="1637.7" stroke="#222222" stroke-width="2.4"/>
<text class="tk" transform="translate(310.3 1666.1) scale(1 1.06)" text-anchor="middle">20</text>
<line x1="436.5" y1="1629.2" x2="436.5" y2="1637.7" stroke="#222222" stroke-width="2.4"/>
<text class="tk" transform="translate(436.5 1666.1) scale(1 1.06)" text-anchor="middle">40</text>
<line x1="562.7" y1="1629.2" x2="562.7" y2="1637.7" stroke="#222222" stroke-width="2.4"/>
<text class="tk" transform="translate(562.7 1666.1) scale(1 1.06)" text-anchor="middle">60</text>
<line x1="688.9" y1="1629.2" x2="688.9" y2="1637.7" stroke="#222222" stroke-width="2.4"/>
<text class="tk" transform="translate(688.9 1666.1) scale(1 1.06)" text-anchor="middle">80</text>
<text class="ti" x="449.5" y="1707.6" text-anchor="middle">Days</text>
<text class="ti" transform="translate(38.6 1447.4) rotate(-90)" text-anchor="middle">E Cytokine+ T cells</text>
<text class="ti" transform="translate(74.5 1439.8) rotate(-90)" text-anchor="middle">(% of CD4+ T cells)</text></g>
<g><path d="M1103.0 1611.7 L1108.5 1606.2 L1112.9 1603.5 L1118.4 1606.2 L1127.3 1611.7Z" fill="#e6b2b2"/>
<path d="M1242.0 1610.8 L1247.6 1606.4 L1253.1 1605.9 L1262.0 1610.8Z" fill="#e6b2b2"/>
<path d="M958.5 1611.7 L960.5 1611.6 L962.5 1611.4 L964.5 1611.2 L966.5 1611.0 L968.5 1610.8 L970.5 1610.5 L972.5 1610.2 L974.5 1610.0 L976.5 1609.9 L978.5 1610.1 L980.5 1610.3 L982.5 1610.6 L984.5 1610.9 L986.5 1611.2 L988.5 1611.3 L990.5 1611.3 L992.5 1611.3 L994.5 1611.3 L996.5 1611.3 L998.5 1611.4 L1000.5 1611.4 L1002.5 1611.4 L1004.5 1611.4 L1006.5 1611.4 L1008.5 1611.4 L1010.5 1611.5 L1012.5 1611.5 L1014.5 1611.5 L1016.5 1611.5 L1018.5 1611.5 L1020.5 1611.5 L1022.5 1611.5 L1024.5 1611.5 L1026.5 1611.6 L1028.5 1611.6 L1030.5 1611.6 L1032.5 1611.6 L1034.5 1611.6 L1036.5 1611.6 L1038.5 1611.6 L1040.5 1611.6 L1042.5 1611.6 L1044.5 1611.6 L1046.5 1611.6 L1048.5 1611.6 L1050.5 1611.6 L1052.5 1611.7 L1054.5 1611.7 L1056.5 1611.7 L1058.5 1611.7 L1060.5 1611.7 L1062.5 1611.7 L1064.5 1611.7 L1066.5 1611.7 L1068.5 1611.7 L1070.5 1611.7 L1072.5 1611.7 L1074.5 1611.7 L1076.5 1611.7 L1078.5 1611.7 L1080.5 1611.7 L1082.5 1611.7 L1084.5 1611.7 L1086.5 1611.7 L1088.5 1611.7 L1090.5 1611.7 L1092.5 1611.7 L1094.5 1611.7 L1096.5 1611.7 L1098.5 1611.7 L1100.5 1611.5 L1102.5 1611.1 L1104.5 1610.6 L1106.5 1610.2 L1108.5 1610.2 L1110.5 1610.2 L1112.5 1610.3 L1114.5 1610.4 L1116.5 1610.5 L1118.5 1610.5 L1120.5 1610.6 L1122.5 1610.6 L1124.5 1610.7 L1126.5 1610.7 L1128.5 1610.7 L1130.5 1610.8 L1132.5 1610.8 L1134.5 1610.8 L1136.5 1610.9 L1138.5 1610.9 L1140.5 1610.9 L1142.5 1610.9 L1144.5 1611.0 L1146.5 1611.0 L1148.5 1611.0 L1150.5 1611.1 L1152.5 1611.1 L1154.5 1611.1 L1156.5 1611.1 L1158.5 1611.2 L1160.5 1611.2 L1162.5 1611.2 L1164.5 1611.2 L1166.5 1611.3 L1168.5 1611.3 L1170.5 1611.3 L1172.5 1611.3 L1174.5 1611.4 L1176.5 1611.4 L1178.5 1611.4 L1180.5 1611.4 L1182.5 1611.4 L1184.5 1611.4 L1186.5 1611.5 L1188.5 1611.5 L1190.5 1611.5 L1192.5 1611.5 L1194.5 1611.5 L1196.5 1611.5 L1198.5 1611.6 L1200.5 1611.6 L1202.5 1611.6 L1204.5 1611.6 L1206.5 1611.6 L1208.5 1611.6 L1210.5 1611.6 L1212.5 1611.6 L1214.5 1611.7 L1216.5 1611.7 L1218.5 1611.7 L1220.5 1611.7 L1222.5 1611.7 L1224.5 1611.7 L1226.5 1611.7 L1228.5 1611.7 L1230.5 1611.7 L1232.5 1611.7 L1234.5 1611.7 L1236.5 1611.7 L1238.5 1611.7 L1240.5 1611.3 L1242.5 1610.7 L1244.5 1610.3 L1246.5 1610.0 L1248.5 1609.9 L1250.5 1609.9 L1252.5 1610.0 L1254.5 1610.1 L1256.5 1610.3 L1258.5 1610.6 L1260.5 1610.8 L1262.5 1611.0 L1264.5 1611.2 L1266.5 1611.3 L1268.5 1611.3 L1270.5 1611.3 L1272.5 1611.3 L1274.5 1611.3 L1276.5 1611.3 L1278.5 1611.3 L1280.5 1611.3 L1282.5 1611.3 L1284.5 1611.3 L1286.5 1611.3 L1288.5 1611.3 L1290.5 1611.3 L1292.5 1611.3 L1294.5 1611.3 L1296.5 1611.3 L1298.5 1611.3 L1300.5 1611.3 L1302.5 1611.3 L1304.5 1611.3 L1306.5 1611.4 L1308.5 1611.4 L1310.5 1611.4 L1312.5 1611.4 L1314.5 1611.4 L1316.5 1611.4 L1318.5 1611.4 L1320.5 1611.4 L1322.5 1611.4 L1324.5 1611.4 L1326.5 1611.4 L1328.5 1611.4 L1330.5 1611.4 L1332.5 1611.4 L1334.5 1611.4 L1336.5 1611.4 L1338.5 1611.4 L1340.5 1611.4 L1342.5 1611.4 L1344.5 1611.4 L1346.5 1611.4 L1348.5 1611.4 L1350.5 1611.4 L1352.5 1611.4 L1354.5 1611.4 L1356.5 1611.4 L1358.5 1611.4 L1360.5 1611.4 L1362.5 1611.4 L1364.5 1611.4 L1366.5 1611.4 L1368.5 1611.4 L1370.5 1611.4 L1372.5 1611.4 L1374.5 1611.4 L1376.5 1611.4 L1378.5 1611.4 L1380.5 1611.4 L1382.5 1611.4 L1384.5 1611.5 L1386.5 1611.5 L1388.5 1611.5 L1390.5 1611.5 L1392.5 1611.5 L1394.5 1611.5 L1396.5 1611.5 L1398.5 1611.5 L1400.5 1611.5 L1402.5 1611.5 L1404.5 1611.5 L1406.5 1611.5 L1408.5 1611.5 L1410.5 1611.5 L1412.5 1611.5 L1414.5 1611.5 L1416.5 1611.5 L1418.5 1611.5 L1420.5 1611.5 L1422.5 1611.5 L1424.5 1611.5 L1426.5 1611.5 L1428.5 1611.5 L1430.5 1611.5 L1432.5 1611.5 L1434.5 1611.5 L1436.5 1611.5 L1438.5 1611.5 L1440.5 1611.5 L1442.5 1611.5 L1444.5 1611.5 L1446.5 1611.5 L1448.5 1611.5 L1450.5 1611.5 L1452.5 1611.5 L1454.5 1611.5 L1456.5 1611.5 L1458.5 1611.5 L1460.5 1611.5 L1462.5 1611.5 L1464.5 1611.5 L1466.5 1611.5 L1468.5 1611.5 L1470.5 1611.5 L1472.5 1611.5 L1474.4 1611.5" fill="none" stroke="#f8402f" stroke-width="3.2" stroke-linejoin="round"/>
<rect x="1092.3" y="1609.9" width="7.3" height="2.6" fill="#1c1416" stroke="#1e1e1e" stroke-width="2.1"/>
<circle cx="958.5" cy="1611.0" r="4.9" fill="#1a1a1a"/>
<circle cx="992.7" cy="1611.0" r="4.9" fill="#1a1a1a"/>
<circle cx="1130.6" cy="1606.9" r="4.9" fill="#1a1a1a"/>
<circle cx="1130.6" cy="1611.0" r="4.9" fill="#1a1a1a"/>
<circle cx="1233.6" cy="1609.0" r="4.9" fill="#1a1a1a"/>
<circle cx="1267.7" cy="1610.4" r="4.9" fill="#1a1a1a"/>
<circle cx="1474.4" cy="1610.8" r="4.9" fill="#1a1a1a"/>
<path d="M928.7 1254.0 V1630.7" fill="none" stroke="#2b2b2b" stroke-width="2.5"/>
<path d="M927.5 1629.2 H1528.3" fill="none" stroke="#2b2b2b" stroke-width="3.0"/>
<line x1="920.2" y1="1611.3" x2="928.7" y2="1611.3" stroke="#222222" stroke-width="2.4"/>
<text class="tk" transform="translate(911.7 1622.2) scale(1 1.06)" text-anchor="end">0.0</text>
<line x1="920.2" y1="1489.8" x2="928.7" y2="1489.8" stroke="#222222" stroke-width="2.4"/>
<text class="tk" transform="translate(911.7 1500.7) scale(1 1.06)" text-anchor="end">0.5</text>
<line x1="920.2" y1="1368.9" x2="928.7" y2="1368.9" stroke="#222222" stroke-width="2.4"/>
<text class="tk" transform="translate(911.7 1379.8) scale(1 1.06)" text-anchor="end">1.0</text>
<line x1="958.5" y1="1629.2" x2="958.5" y2="1637.7" stroke="#222222" stroke-width="2.4"/>
<text class="tk" transform="translate(958.5 1666.1) scale(1 1.06)" text-anchor="middle">0</text>
<line x1="1081.4" y1="1629.2" x2="1081.4" y2="1637.7" stroke="#222222" stroke-width="2.4"/>
<text class="tk" transform="translate(1081.4 1666.1) scale(1 1.06)" text-anchor="middle">50</text>
<line x1="1204.3" y1="1629.2" x2="1204.3" y2="1637.7" stroke="#222222" stroke-width="2.4"/>
<text class="tk" transform="translate(1204.3 1666.1) scale(1 1.06)" text-anchor="middle">100</text>
<line x1="1327.2" y1="1629.2" x2="1327.2" y2="1637.7" stroke="#222222" stroke-width="2.4"/>
<text class="tk" transform="translate(1327.2 1666.1) scale(1 1.06)" text-anchor="middle">150</text>
<line x1="1450.1" y1="1629.2" x2="1450.1" y2="1637.7" stroke="#222222" stroke-width="2.4"/>
<text class="tk" transform="translate(1450.1 1666.1) scale(1 1.06)" text-anchor="middle">200</text>
<text class="ti" x="1227.9" y="1707.6" text-anchor="middle">Days</text></g>
<g transform="translate(0 0.70)"><path d="M251.1 2150.4 L253.1 2148.3 L255.1 2145.8 L257.1 2142.4 L259.1 2139.1 L261.1 2135.9 L263.1 2132.8 L265.1 2129.6 L267.1 2126.4 L269.1 2123.1 L271.1 2119.7 L273.1 2116.3 L275.1 2112.8 L277.1 2109.4 L279.1 2106.0 L281.1 2102.5 L283.1 2099.1 L285.1 2095.7 L287.1 2092.4 L289.1 2089.2 L291.1 2086.1 L293.1 2083.1 L295.1 2080.2 L297.1 2077.4 L299.1 2074.9 L301.1 2072.4 L303.1 2070.1 L305.1 2067.8 L307.1 2065.5 L309.1 2063.2 L311.1 2060.9 L313.1 2058.6 L315.1 2056.6 L317.1 2054.7 L319.1 2052.9 L321.1 2051.3 L323.1 2049.7 L325.1 2048.3 L327.1 2046.9 L329.1 2045.6 L331.1 2044.4 L333.1 2043.3 L335.1 2042.1 L337.1 2041.1 L339.1 2040.0 L341.1 2039.0 L343.1 2038.1 L343.5 2037.9 L345.5 2036.3 L347.5 2034.6 L349.5 2032.9 L351.5 2031.0 L353.5 2028.9 L355.5 2026.9 L357.5 2024.8 L359.5 2022.9 L361.5 2021.0 L363.5 2019.1 L365.5 2017.2 L367.5 2015.5 L369.5 2014.0 L371.5 2012.6 L373.5 2011.2 L375.5 2010.0 L377.5 2008.8 L378.6 2008.3 L380.6 2015.3 L382.6 2023.0 L384.6 2032.0 L386.6 2040.2 L388.6 2046.1 L390.6 2050.8 L392.6 2054.4 L394.6 2057.2 L396.6 2059.2 L398.6 2060.5 L400.6 2061.6 L402.6 2062.3 L404.6 2062.6 L406.6 2062.4 L408.6 2061.8 L410.6 2060.9 L412.6 2060.0 L414.6 2058.9 L416.6 2057.4 L418.6 2055.8 L420.6 2054.1 L422.6 2052.1 L424.6 2049.9 L426.6 2047.7 L428.6 2045.4 L430.6 2042.9 L432.6 2040.4 L434.6 2037.8 L436.6 2035.2 L438.6 2032.6 L440.6 2030.0 L442.6 2027.4 L444.6 2024.8 L446.6 2022.2 L448.6 2019.5 L450.6 2016.9 L452.6 2014.4 L454.6 2012.0 L456.6 2009.6 L458.6 2007.3 L460.6 2005.1 L462.6 2002.8 L464.6 2000.8 L466.6 1998.9 L468.6 1997.1 L470.6 1995.4 L472.6 1993.7 L474.6 1992.1 L476.6 1990.5 L478.6 1989.1 L480.6 1987.6 L482.6 1986.2 L484.6 1985.0 L486.6 1983.8 L488.6 1982.7 L490.6 1981.7 L492.6 1980.7 L494.6 1979.9 L496.6 1979.0 L498.6 1978.2 L500.6 1977.5 L502.6 1976.8 L504.6 1976.2 L506.6 1975.7 L508.6 1975.3 L510.6 1974.9 L512.6 1974.5 L514.6 1974.2 L516.6 1973.9 L518.6 1973.6 L520.6 1973.3 L522.6 1973.1 L524.6 1972.9 L526.6 1972.8 L528.6 1972.6 L530.6 1972.5 L532.6 1972.4 L534.6 1972.3 L536.6 1972.1 L538.6 1972.0 L540.6 1971.9 L542.6 1971.8 L544.6 1971.7 L546.6 1971.6 L548.6 1971.5 L550.6 1971.5 L552.6 1971.4 L554.6 1971.4 L556.6 1971.3 L558.6 1971.3 L560.6 1971.2 L562.6 1971.2 L564.6 1971.1 L566.6 1971.1 L568.6 1971.0 L570.6 1971.0 L572.6 1971.0 L574.6 1971.0 L576.6 1970.9 L578.6 1970.9 L580.6 1970.9 L582.6 1970.9 L584.6 1970.8 L586.6 1970.8 L588.6 1970.8 L590.6 1970.8 L592.6 1970.8 L594.6 1970.8 L596.6 1970.7 L598.6 1970.7 L600.6 1970.7 L602.6 1970.7 L604.6 1970.7 L606.6 1970.6 L608.6 1970.6 L610.6 1970.6 L612.6 1970.6 L614.6 1970.6 L616.6 1970.6 L618.6 1970.5 L620.6 1970.5 L622.6 1970.5 L624.6 1970.5 L626.6 1970.5 L628.6 1970.5 L630.6 1970.5 L632.6 1970.4 L634.6 1970.4 L636.6 1970.4 L638.6 1970.4 L640.6 1970.4 L642.6 1970.4 L644.6 1970.4 L646.6 1970.4 L648.6 1970.3 L650.6 1970.3 L652.6 1970.3 L654.6 1970.3 L656.6 1970.3 L658.6 1970.3 L660.6 1970.3 L662.6 1970.3 L664.6 1970.3 L666.6 1970.3 L668.6 1970.2 L670.6 1970.2 L672.6 1970.2 L674.6 1970.2 L676.6 1970.2 L678.6 1970.2 L680.6 1970.2 L682.6 1970.2 L684.6 1970.2 L686.6 1970.2 L688.6 1970.2 L690.6 1970.2 L692.6 1970.2 L694.6 1970.2 L696.6 1970.2 L698.6 1970.1 L700.6 1970.1 L702.6 1970.1 L704.6 1970.1 L706.6 1970.1 L708.6 1970.1 L710.6 1970.1 L712.6 1970.1 L714.6 1970.1 L716.6 1970.1 L718.6 1970.1 L720.6 1970.1 L721.5 1970.1 L721.5 2150.0 L251.1 2150.0Z" fill="#b3d4f5"/>
<path d="M207.8 2149.8 L209.8 2149.8 L211.8 2149.8 L213.8 2149.8 L215.8 2149.8 L217.8 2149.8 L219.8 2149.8 L221.8 2149.8 L223.8 2149.8 L225.8 2149.8 L227.8 2149.8 L229.8 2149.8 L231.8 2149.8 L233.8 2149.8 L235.8 2149.8 L237.8 2149.8 L239.8 2149.8 L241.8 2149.8 L243.8 2149.8 L245.8 2149.8 L247.8 2149.7 L249.8 2149.6 L251.8 2149.4 L253.8 2149.3 L255.8 2149.1 L257.8 2148.8 L259.8 2148.6 L261.8 2148.2 L263.8 2147.8 L265.8 2147.4 L267.8 2146.9 L269.8 2146.4 L271.8 2145.8 L273.8 2145.2 L275.8 2144.6 L277.8 2143.9 L279.8 2143.1 L281.8 2142.3 L283.8 2141.6 L285.8 2140.8 L287.8 2139.9 L289.8 2139.1 L291.8 2138.2 L293.8 2137.3 L295.8 2136.5 L297.8 2135.8 L299.8 2135.1 L301.8 2134.5 L303.8 2133.8 L305.8 2133.2 L307.8 2132.6 L309.8 2132.0 L311.8 2131.5 L313.8 2130.9 L315.8 2130.4 L317.8 2129.8 L319.8 2129.3 L321.8 2128.8 L323.8 2128.3 L325.8 2127.9 L327.8 2127.4 L329.8 2127.1 L331.8 2126.7 L333.8 2126.3 L335.8 2125.9 L337.8 2125.6 L339.8 2125.3 L341.8 2125.0 L343.8 2124.7 L345.8 2124.5 L347.8 2124.2 L349.8 2124.0 L351.8 2123.8 L353.8 2123.6 L355.8 2123.4 L357.8 2123.2 L359.8 2123.0 L361.8 2122.9 L363.8 2122.7 L365.8 2122.5 L367.8 2122.3 L369.8 2122.1 L371.8 2121.9 L373.8 2121.7 L375.8 2121.5 L377.8 2121.3 L378.6 2121.2 L380.6 2124.0 L382.6 2126.9 L384.6 2129.8 L386.6 2133.1 L388.6 2136.0 L390.6 2137.9 L392.6 2139.5 L394.6 2140.7 L396.6 2141.4 L398.6 2142.1 L400.6 2142.5 L402.6 2142.8 L404.6 2142.8 L406.6 2142.7 L408.6 2142.7 L410.6 2142.5 L412.6 2142.4 L414.6 2142.1 L416.6 2141.7 L418.6 2141.1 L420.6 2140.5 L422.6 2139.9 L424.6 2139.2 L426.6 2138.4 L428.6 2137.6 L430.6 2136.8 L432.6 2136.1 L434.6 2135.3 L436.6 2134.5 L438.6 2133.7 L440.6 2132.8 L442.6 2132.0 L444.6 2131.2 L446.6 2130.5 L448.6 2129.7 L450.6 2128.9 L452.6 2128.1 L454.6 2127.4 L456.6 2126.6 L458.6 2125.9 L460.6 2125.2 L462.6 2124.5 L464.6 2123.8 L466.6 2123.2 L468.6 2122.6 L470.6 2122.1 L472.6 2121.7 L474.6 2121.3 L476.6 2121.0 L478.6 2120.7 L480.6 2120.4 L482.6 2120.1 L484.6 2119.9 L486.6 2119.6 L488.6 2119.4 L490.6 2119.2 L492.6 2119.1 L494.6 2118.9 L496.6 2118.7 L498.6 2118.5 L500.6 2118.3 L502.6 2118.1 L504.6 2117.9 L506.6 2117.7 L508.6 2117.6 L510.6 2117.4 L512.6 2117.3 L514.6 2117.2 L516.6 2117.0 L518.6 2116.9 L520.6 2116.8 L522.6 2116.7 L524.6 2116.7 L526.6 2116.6 L528.6 2116.5 L530.6 2116.5 L532.6 2116.4 L534.6 2116.4 L536.6 2116.4 L538.6 2116.3 L540.6 2116.3 L542.6 2116.3 L544.6 2116.3 L546.6 2116.3 L548.6 2116.3 L550.6 2116.3 L552.6 2116.3 L554.6 2116.3 L556.6 2116.3 L558.6 2116.2 L560.6 2116.2 L562.6 2116.2 L564.6 2116.2 L566.6 2116.2 L568.6 2116.2 L570.6 2116.2 L572.6 2116.2 L574.6 2116.2 L576.6 2116.2 L578.6 2116.2 L580.6 2116.2 L582.6 2116.2 L584.6 2116.2 L586.6 2116.2 L588.6 2116.2 L590.6 2116.2 L592.6 2116.2 L594.6 2116.2 L596.6 2116.1 L598.6 2116.1 L600.6 2116.1 L602.6 2116.1 L604.6 2116.1 L606.6 2116.1 L608.6 2116.1 L610.6 2116.1 L612.6 2116.1 L614.6 2116.1 L616.6 2116.1 L618.6 2116.1 L620.6 2116.1 L622.6 2116.1 L624.6 2116.1 L626.6 2116.0 L628.6 2116.0 L630.6 2116.0 L632.6 2116.0 L634.6 2116.0 L636.6 2116.0 L638.6 2116.0 L640.6 2116.0 L642.6 2116.0 L644.6 2116.0 L646.6 2116.0 L648.6 2116.0 L650.6 2116.0 L652.6 2116.0 L654.6 2116.0 L656.6 2116.0 L658.6 2115.9 L660.6 2115.9 L662.6 2115.9 L664.6 2115.9 L666.6 2115.9 L668.6 2115.9 L670.6 2115.9 L672.6 2115.9 L674.6 2115.9 L676.6 2115.9 L678.6 2115.9 L680.6 2115.9 L682.6 2115.9 L684.6 2115.9 L686.6 2115.9 L688.6 2115.8 L690.6 2115.8 L692.6 2115.8 L694.6 2115.8 L696.6 2115.8 L698.6 2115.8 L700.6 2115.8 L702.6 2115.8 L704.6 2115.8 L706.6 2115.8 L708.6 2115.8 L710.6 2115.8 L712.6 2115.8 L714.6 2115.8 L716.6 2115.8 L718.6 2115.8 L720.6 2115.7 L721.3 2115.7" fill="none" stroke="#3350ff" stroke-width="3.2" stroke-linejoin="round"/>
<line x1="292.3" y1="2113.8" x2="292.3" y2="2131.5" stroke="#3a3a3a" stroke-width="2.4"/>
<rect x="288.1" y="2131.5" width="8.4" height="19.9" fill="#1e90ff" stroke="#262626" stroke-width="2.1"/>
<line x1="288.1" y1="2149.6" x2="296.5" y2="2149.6" stroke="#262626" stroke-width="3.2"/>
<rect x="372.4" y="2147.3" width="8.4" height="4.7" fill="#141c26" stroke="#262626" stroke-width="2.1"/>
<rect x="414.7" y="2145.7" width="8.4" height="5.2" fill="#1b5fa8" stroke="#262626" stroke-width="2.1"/>
<line x1="414.7" y1="2149.6" x2="423.1" y2="2149.6" stroke="#262626" stroke-width="3.2"/>
<line x1="461.1" y1="2120.0" x2="461.1" y2="2124.0" stroke="#3a3a3a" stroke-width="2.4"/>
<rect x="456.9" y="2124.0" width="8.4" height="26.0" fill="#1e90ff" stroke="#262626" stroke-width="2.1"/>
<line x1="456.9" y1="2146.7" x2="465.3" y2="2146.7" stroke="#262626" stroke-width="3.2"/>
<line x1="545.7" y1="2051.5" x2="545.7" y2="2056.4" stroke="#3a3a3a" stroke-width="2.4"/>
<rect x="541.5" y="2056.4" width="8.4" height="94.0" fill="#1e90ff" stroke="#262626" stroke-width="2.1"/>
<line x1="541.5" y1="2139.1" x2="549.9" y2="2139.1" stroke="#262626" stroke-width="3.2"/>
<rect x="626.0" y="2143.2" width="8.4" height="8.2" fill="#1e90ff" stroke="#262626" stroke-width="2.1"/>
<line x1="626.0" y1="2149.8" x2="634.4" y2="2149.8" stroke="#262626" stroke-width="3.2"/>
<circle cx="545.4" cy="1837.0" r="4.9" fill="#1a1a1a"/>
<circle cx="207.8" cy="2149.8" r="4.9" fill="#1a1a1a"/>
<circle cx="250.1" cy="2141.4" r="4.4" fill="#1a1a1a"/>
<circle cx="250.1" cy="2145.9" r="4.4" fill="#1a1a1a"/>
<circle cx="250.1" cy="2150.4" r="4.4" fill="#1a1a1a"/>
<circle cx="376.6" cy="2101.5" r="4.9" fill="#1a1a1a"/>
<circle cx="419.1" cy="2072.5" r="4.9" fill="#1a1a1a"/>
<circle cx="461.3" cy="2076.2" r="4.9" fill="#1a1a1a"/>
<circle cx="630.2" cy="2127.0" r="4.9" fill="#1a1a1a"/>
<path d="M150.9 1793.0 V2169.0" fill="none" stroke="#2b2b2b" stroke-width="2.5"/>
<path d="M149.7 2167.5 H750.2" fill="none" stroke="#2b2b2b" stroke-width="3.0"/>
<line x1="142.4" y1="2150.6" x2="150.9" y2="2150.6" stroke="#222222" stroke-width="2.4"/>
<text class="tk" transform="translate(133.9 2161.5) scale(1 1.06)" text-anchor="end">0.0</text>
<line x1="142.4" y1="2046.3" x2="150.9" y2="2046.3" stroke="#222222" stroke-width="2.4"/>
<text class="tk" transform="translate(133.9 2057.2) scale(1 1.06)" text-anchor="end">0.5</text>
<line x1="142.4" y1="1942.3" x2="150.9" y2="1942.3" stroke="#222222" stroke-width="2.4"/>
<text class="tk" transform="translate(133.9 1953.2) scale(1 1.06)" text-anchor="end">1.0</text>
<line x1="142.4" y1="1837.0" x2="150.9" y2="1837.0" stroke="#222222" stroke-width="2.4"/>
<text class="tk" transform="translate(133.9 1847.9) scale(1 1.06)" text-anchor="end">1.5</text>
<line x1="207.7" y1="2167.5" x2="207.7" y2="2176.0" stroke="#222222" stroke-width="2.4"/>
<text class="tk" transform="translate(207.7 2204.4) scale(1 1.06)" text-anchor="middle">0</text>
<line x1="358.4" y1="2167.5" x2="358.4" y2="2176.0" stroke="#222222" stroke-width="2.4"/>
<text class="tk" transform="translate(358.4 2204.4) scale(1 1.06)" text-anchor="middle">25</text>
<line x1="509.2" y1="2167.5" x2="509.2" y2="2176.0" stroke="#222222" stroke-width="2.4"/>
<text class="tk" transform="translate(509.2 2204.4) scale(1 1.06)" text-anchor="middle">50</text>
<line x1="660.0" y1="2167.5" x2="660.0" y2="2176.0" stroke="#222222" stroke-width="2.4"/>
<text class="tk" transform="translate(660.0 2204.4) scale(1 1.06)" text-anchor="middle">75</text>
<text class="ti" x="449.5" y="2245.9" text-anchor="middle">Days</text>
<text class="ti" transform="translate(38.6 1986.0) rotate(-90)" text-anchor="middle">CM Cytokine+ T cells</text>
<text class="ti" transform="translate(74.5 1978.5) rotate(-90)" text-anchor="middle">(% of CD4+ T cells)</text></g>
<g transform="translate(0 0.70)"><path d="M988.3 2149.9 L990.3 2149.6 L992.3 2149.2 L994.3 2148.8 L996.3 2148.3 L998.3 2147.8 L1000.3 2147.1 L1002.3 2146.4 L1004.3 2145.7 L1006.3 2144.9 L1008.3 2144.2 L1010.3 2143.7 L1012.3 2143.3 L1014.3 2142.9 L1016.3 2142.5 L1018.3 2142.1 L1020.3 2141.9 L1022.3 2141.6 L1024.3 2141.4 L1026.3 2141.3 L1028.3 2141.1 L1030.3 2141.0 L1032.3 2140.9 L1034.3 2140.7 L1036.3 2140.6 L1038.3 2140.5 L1040.3 2140.4 L1042.3 2140.3 L1044.3 2140.3 L1046.3 2140.2 L1048.3 2140.1 L1050.3 2140.1 L1052.3 2140.0 L1054.3 2140.0 L1056.3 2139.9 L1058.3 2139.9 L1060.3 2139.8 L1062.3 2139.8 L1064.3 2139.7 L1066.3 2139.7 L1068.3 2139.7 L1070.3 2139.6 L1072.3 2139.6 L1074.3 2139.6 L1076.3 2139.5 L1078.3 2139.5 L1080.3 2139.5 L1082.3 2139.4 L1084.3 2139.4 L1086.3 2139.4 L1088.3 2139.4 L1090.3 2139.3 L1092.3 2139.3 L1094.3 2139.3 L1096.3 2139.3 L1098.3 2139.3 L1100.3 2139.3 L1102.3 2139.3 L1104.3 2139.5 L1106.3 2140.7 L1108.3 2142.0 L1110.3 2142.8 L1112.3 2143.3 L1114.3 2143.8 L1116.3 2144.1 L1118.3 2144.1 L1120.3 2144.0 L1122.3 2143.7 L1124.3 2143.3 L1126.3 2142.8 L1128.3 2142.3 L1130.3 2141.4 L1132.3 2140.3 L1134.3 2139.1 L1136.3 2138.0 L1138.3 2137.1 L1140.3 2136.4 L1142.3 2135.7 L1144.3 2135.0 L1146.3 2134.4 L1148.3 2133.8 L1150.3 2133.3 L1152.3 2132.9 L1154.3 2132.6 L1156.3 2132.3 L1158.3 2132.0 L1160.3 2131.7 L1162.3 2131.5 L1164.3 2131.2 L1166.3 2131.0 L1168.3 2130.8 L1170.3 2130.7 L1172.3 2130.6 L1174.3 2130.5 L1176.3 2130.5 L1178.3 2130.4 L1180.3 2130.4 L1182.3 2130.4 L1184.3 2130.4 L1186.3 2130.4 L1188.3 2130.4 L1190.3 2130.3 L1192.3 2130.3 L1194.3 2130.3 L1196.3 2130.3 L1198.3 2130.3 L1200.3 2130.3 L1202.3 2130.3 L1204.3 2130.2 L1206.3 2130.2 L1208.3 2130.2 L1210.3 2130.1 L1212.3 2130.1 L1214.3 2130.0 L1216.3 2130.0 L1218.3 2129.9 L1220.3 2129.9 L1222.3 2129.9 L1224.3 2129.8 L1226.3 2129.8 L1228.3 2129.7 L1230.3 2129.7 L1232.3 2129.7 L1234.3 2129.6 L1236.3 2129.6 L1238.3 2129.6 L1240.3 2129.7 L1242.3 2131.8 L1244.3 2134.0 L1246.3 2135.3 L1248.3 2136.3 L1250.3 2136.9 L1252.3 2136.8 L1254.3 2136.3 L1256.3 2135.6 L1258.3 2134.9 L1260.3 2134.3 L1262.3 2133.5 L1264.3 2132.7 L1266.3 2131.9 L1268.3 2131.2 L1270.3 2130.5 L1272.3 2129.8 L1274.3 2129.3 L1276.3 2128.8 L1278.3 2128.3 L1280.3 2127.8 L1282.3 2127.4 L1284.3 2127.0 L1286.3 2126.6 L1288.3 2126.3 L1290.3 2126.1 L1292.3 2125.9 L1294.3 2125.7 L1296.3 2125.5 L1298.3 2125.3 L1300.3 2125.1 L1302.3 2125.0 L1304.3 2124.8 L1306.3 2124.7 L1308.3 2124.6 L1310.3 2124.5 L1312.3 2124.5 L1314.3 2124.4 L1316.3 2124.3 L1318.3 2124.3 L1320.3 2124.2 L1322.3 2124.2 L1324.3 2124.1 L1326.3 2124.1 L1328.3 2124.0 L1330.3 2124.0 L1332.3 2123.9 L1334.3 2123.9 L1336.3 2123.8 L1338.3 2123.8 L1340.3 2123.8 L1342.3 2123.7 L1344.3 2123.7 L1346.3 2123.7 L1348.3 2123.7 L1350.3 2123.7 L1352.3 2123.6 L1354.3 2123.6 L1356.3 2123.6 L1358.3 2123.6 L1360.3 2123.6 L1362.3 2123.6 L1364.3 2123.6 L1366.3 2123.6 L1368.3 2123.6 L1370.3 2123.6 L1372.3 2123.6 L1374.3 2123.6 L1376.3 2123.6 L1378.3 2123.6 L1380.3 2123.6 L1382.3 2123.6 L1384.3 2123.6 L1386.3 2123.6 L1388.3 2123.6 L1390.3 2123.6 L1392.3 2123.6 L1394.3 2123.6 L1396.3 2123.6 L1398.3 2123.6 L1400.3 2123.6 L1402.3 2123.6 L1404.3 2123.6 L1406.3 2123.6 L1408.3 2123.6 L1410.3 2123.6 L1412.3 2123.6 L1414.3 2123.6 L1416.3 2123.6 L1418.3 2123.6 L1420.3 2123.6 L1422.3 2123.6 L1424.3 2123.6 L1426.3 2123.6 L1428.3 2123.6 L1430.3 2123.6 L1432.3 2123.6 L1434.3 2123.6 L1436.3 2123.6 L1438.3 2123.6 L1440.3 2123.6 L1442.3 2123.6 L1444.3 2123.6 L1446.3 2123.6 L1448.3 2123.6 L1450.3 2123.6 L1452.3 2123.6 L1454.3 2123.6 L1456.3 2123.6 L1458.3 2123.6 L1460.3 2123.6 L1462.3 2123.6 L1464.3 2123.6 L1466.3 2123.6 L1468.3 2123.6 L1470.3 2123.6 L1472.3 2123.6 L1474.3 2123.6 L1475.9 2123.6 L1475.9 2150.0 L988.3 2150.0Z" fill="#e6b2b2"/>
<path d="M968.4 2150.8 L970.4 2150.8 L972.4 2150.7 L974.4 2150.7 L976.4 2150.7 L978.4 2150.6 L980.4 2150.6 L982.4 2150.5 L984.4 2150.5 L986.4 2150.4 L988.4 2150.3 L990.4 2150.2 L992.4 2149.9 L994.4 2149.6 L996.4 2149.3 L998.4 2149.0 L1000.4 2148.8 L1002.4 2148.8 L1004.4 2148.8 L1006.4 2148.7 L1008.4 2148.7 L1010.4 2148.7 L1012.4 2148.7 L1014.4 2148.7 L1016.4 2148.7 L1018.4 2148.7 L1020.4 2148.6 L1022.4 2148.6 L1024.4 2148.6 L1026.4 2148.6 L1028.4 2148.6 L1030.4 2148.6 L1032.4 2148.6 L1034.4 2148.6 L1036.4 2148.5 L1038.4 2148.5 L1040.4 2148.5 L1042.4 2148.5 L1044.4 2148.5 L1046.4 2148.5 L1048.4 2148.5 L1050.4 2148.5 L1052.4 2148.5 L1054.4 2148.4 L1056.4 2148.4 L1058.4 2148.4 L1060.4 2148.4 L1062.4 2148.4 L1064.4 2148.4 L1066.4 2148.4 L1068.4 2148.4 L1070.4 2148.4 L1072.4 2148.4 L1074.4 2148.4 L1076.4 2148.4 L1078.4 2148.3 L1080.4 2148.3 L1082.4 2148.3 L1084.4 2148.3 L1086.4 2148.3 L1088.4 2148.3 L1090.4 2148.3 L1092.4 2148.3 L1094.4 2148.3 L1096.4 2148.3 L1098.4 2148.3 L1100.4 2148.3 L1102.4 2148.3 L1104.4 2148.3 L1106.4 2148.3 L1108.4 2148.2 L1110.4 2148.2 L1112.4 2148.2 L1114.4 2148.2 L1116.4 2148.2 L1118.4 2148.2 L1120.4 2148.2 L1122.4 2148.2 L1124.4 2148.2 L1126.4 2148.2 L1128.4 2148.2 L1130.4 2148.2 L1132.4 2148.2 L1134.4 2148.2 L1136.4 2148.2 L1138.4 2148.2 L1140.4 2148.2 L1142.4 2148.2 L1144.4 2148.2 L1146.4 2148.2 L1148.4 2148.2 L1150.4 2148.2 L1152.4 2148.2 L1154.4 2148.2 L1156.4 2148.2 L1158.4 2148.2 L1160.4 2148.1 L1162.4 2148.1 L1164.4 2148.1 L1166.4 2148.1 L1168.4 2148.1 L1170.4 2148.1 L1172.4 2148.1 L1174.4 2148.1 L1176.4 2148.1 L1178.4 2148.1 L1180.4 2148.1 L1182.4 2148.1 L1184.4 2148.1 L1186.4 2148.1 L1188.4 2148.1 L1190.4 2148.1 L1192.4 2148.1 L1194.4 2148.1 L1196.4 2148.1 L1198.4 2148.1 L1200.4 2148.1 L1202.4 2148.1 L1204.4 2148.1 L1206.4 2148.1 L1208.4 2148.1 L1210.4 2148.1 L1212.4 2148.1 L1214.4 2148.1 L1216.4 2148.1 L1218.4 2148.1 L1220.4 2148.1 L1222.4 2148.1 L1224.4 2148.1 L1226.4 2148.1 L1228.4 2148.1 L1230.4 2148.1 L1232.4 2148.1 L1234.4 2148.1 L1236.4 2148.1 L1238.4 2148.1 L1240.4 2148.1 L1242.4 2148.4 L1244.4 2148.7 L1246.4 2148.7 L1248.4 2148.7 L1250.4 2148.7 L1252.4 2148.7 L1254.4 2148.7 L1256.4 2148.7 L1258.4 2148.7 L1260.4 2148.7 L1262.4 2148.7 L1264.4 2148.7 L1266.4 2148.7 L1268.4 2148.7 L1270.4 2148.7 L1272.4 2148.7 L1274.4 2148.7 L1276.4 2148.7 L1278.4 2148.7 L1280.4 2148.7 L1282.4 2148.6 L1284.4 2148.6 L1286.4 2148.6 L1288.4 2148.6 L1290.4 2148.6 L1292.4 2148.6 L1294.4 2148.6 L1296.4 2148.6 L1298.4 2148.6 L1300.4 2148.6 L1302.4 2148.6 L1304.4 2148.6 L1306.4 2148.6 L1308.4 2148.6 L1310.4 2148.6 L1312.4 2148.6 L1314.4 2148.6 L1316.4 2148.6 L1318.4 2148.6 L1320.4 2148.6 L1322.4 2148.6 L1324.4 2148.6 L1326.4 2148.6 L1328.4 2148.6 L1330.4 2148.6 L1332.4 2148.6 L1334.4 2148.6 L1336.4 2148.6 L1338.4 2148.6 L1340.4 2148.6 L1342.4 2148.6 L1344.4 2148.6 L1346.4 2148.6 L1348.4 2148.6 L1350.4 2148.6 L1352.4 2148.6 L1354.4 2148.6 L1356.4 2148.6 L1358.4 2148.6 L1360.4 2148.6 L1362.4 2148.6 L1364.4 2148.6 L1366.4 2148.6 L1368.4 2148.6 L1370.4 2148.6 L1372.4 2148.6 L1374.4 2148.6 L1376.4 2148.6 L1378.4 2148.6 L1380.4 2148.6 L1382.4 2148.6 L1384.4 2148.6 L1386.4 2148.6 L1388.4 2148.6 L1390.4 2148.6 L1392.4 2148.6 L1394.4 2148.6 L1396.4 2148.6 L1398.4 2148.6 L1400.4 2148.6 L1402.4 2148.6 L1404.4 2148.6 L1406.4 2148.6 L1408.4 2148.6 L1410.4 2148.6 L1412.4 2148.6 L1414.4 2148.6 L1416.4 2148.6 L1418.4 2148.6 L1420.4 2148.6 L1422.4 2148.5 L1424.4 2148.5 L1426.4 2148.5 L1428.4 2148.5 L1430.4 2148.5 L1432.4 2148.5 L1434.4 2148.5 L1436.4 2148.5 L1438.4 2148.5 L1440.4 2148.5 L1442.4 2148.5 L1444.4 2148.5 L1446.4 2148.5 L1448.4 2148.5 L1450.4 2148.5 L1452.4 2148.5 L1454.4 2148.5 L1456.4 2148.5 L1458.4 2148.5 L1460.4 2148.5 L1462.4 2148.5 L1464.4 2148.5 L1466.4 2148.5 L1468.4 2148.4 L1470.4 2148.4 L1472.4 2148.4 L1474.4 2148.4 L1475.5 2148.4" fill="none" stroke="#f8402f" stroke-width="3.2" stroke-linejoin="round"/>
<rect x="964.7" y="2149.0" width="7.3" height="2.6" fill="#1c1416" stroke="#1e1e1e" stroke-width="2.1"/>
<rect x="1099.3" y="2147.7" width="7.3" height="3.1" fill="#1c1416" stroke="#1e1e1e" stroke-width="2.1"/>
<rect x="1133.5" y="2146.1" width="7.3" height="3.3" fill="#1c1416" stroke="#1e1e1e" stroke-width="2.1"/>
<rect x="1235.1" y="2147.3" width="7.3" height="3.1" fill="#1c1416" stroke="#1e1e1e" stroke-width="2.1"/>
<rect x="1268.7" y="2147.3" width="7.3" height="3.1" fill="#1c1416" stroke="#1e1e1e" stroke-width="2.1"/>
<rect x="1471.4" y="2148.0" width="7.3" height="3.1" fill="#1c1416" stroke="#1e1e1e" stroke-width="2.1"/>
<circle cx="1001.9" cy="2145.9" r="4.9" fill="#1a1a1a"/>
<circle cx="1137.2" cy="2137.1" r="4.9" fill="#1a1a1a"/>
<circle cx="1475.1" cy="2138.5" r="4.9" fill="#1a1a1a"/>
<path d="M928.7 1793.0 V2169.0" fill="none" stroke="#2b2b2b" stroke-width="2.5"/>
<path d="M927.5 2167.5 H1528.3" fill="none" stroke="#2b2b2b" stroke-width="3.0"/>
<line x1="920.2" y1="2150.8" x2="928.7" y2="2150.8" stroke="#222222" stroke-width="2.4"/>
<text class="tk" transform="translate(911.7 2161.7) scale(1 1.06)" text-anchor="end">0.0</text>
<line x1="920.2" y1="2046.3" x2="928.7" y2="2046.3" stroke="#222222" stroke-width="2.4"/>
<text class="tk" transform="translate(911.7 2057.2) scale(1 1.06)" text-anchor="end">0.5</text>
<line x1="920.2" y1="1942.4" x2="928.7" y2="1942.4" stroke="#222222" stroke-width="2.4"/>
<text class="tk" transform="translate(911.7 1953.3) scale(1 1.06)" text-anchor="end">1.0</text>
<line x1="920.2" y1="1836.5" x2="928.7" y2="1836.5" stroke="#222222" stroke-width="2.4"/>
<text class="tk" transform="translate(911.7 1847.4) scale(1 1.06)" text-anchor="end">1.5</text>
<line x1="967.7" y1="2167.5" x2="967.7" y2="2176.0" stroke="#222222" stroke-width="2.4"/>
<text class="tk" transform="translate(967.7 2204.4) scale(1 1.06)" text-anchor="middle">0</text>
<line x1="1088.6" y1="2167.5" x2="1088.6" y2="2176.0" stroke="#222222" stroke-width="2.4"/>
<text class="tk" transform="translate(1088.6 2204.4) scale(1 1.06)" text-anchor="middle">50</text>
<line x1="1209.5" y1="2167.5" x2="1209.5" y2="2176.0" stroke="#222222" stroke-width="2.4"/>
<text class="tk" transform="translate(1209.5 2204.4) scale(1 1.06)" text-anchor="middle">100</text>
<line x1="1330.4" y1="2167.5" x2="1330.4" y2="2176.0" stroke="#222222" stroke-width="2.4"/>
<text class="tk" transform="translate(1330.4 2204.4) scale(1 1.06)" text-anchor="middle">150</text>
<line x1="1451.3" y1="2167.5" x2="1451.3" y2="2176.0" stroke="#222222" stroke-width="2.4"/>
<text class="tk" transform="translate(1451.3 2204.4) scale(1 1.06)" text-anchor="middle">200</text>
<text class="ti" x="1227.9" y="2245.9" text-anchor="middle">Days</text></g>
</g>
</svg>
</body>
</html>
